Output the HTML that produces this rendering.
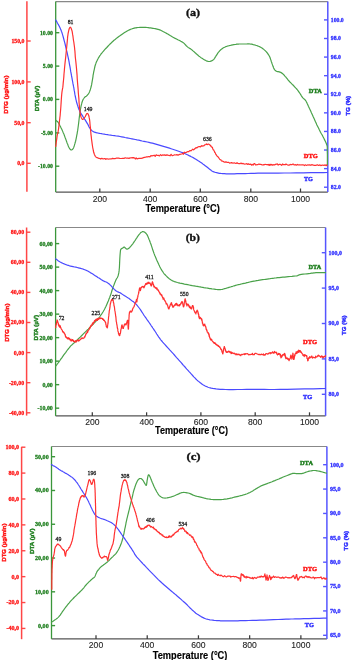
<!DOCTYPE html><html><head><meta charset="utf-8"><style>html,body{margin:0;padding:0;background:#fff;width:352px;height:660px;overflow:hidden}svg{display:block;will-change:transform}.sa{font-family:"Liberation Sans",sans-serif}.se{font-family:"Liberation Serif",serif}</style></head><body>
<svg width="352" height="660" viewBox="0 0 352 660">
<rect width="352" height="660" fill="#fff"/>
<line x1="55.7" y1="1.6" x2="327.8" y2="1.6" stroke="#888" stroke-width="1.2"/>
<line x1="55.7" y1="192.1" x2="327.8" y2="192.1" stroke="#555555" stroke-width="1.3"/>
<line x1="99.8" y1="192.1" x2="99.8" y2="188.5" stroke="#3a3a3a" stroke-width="1.25"/>
<text x="99.8" y="201.6" class="sa" font-size="8.6" fill="#222" stroke="#222" stroke-width="0.1" text-anchor="middle">200</text>
<line x1="150.2" y1="192.1" x2="150.2" y2="188.5" stroke="#3a3a3a" stroke-width="1.25"/>
<text x="150.2" y="201.6" class="sa" font-size="8.6" fill="#222" stroke="#222" stroke-width="0.1" text-anchor="middle">400</text>
<line x1="200.3" y1="192.1" x2="200.3" y2="188.5" stroke="#3a3a3a" stroke-width="1.25"/>
<text x="200.3" y="201.6" class="sa" font-size="8.6" fill="#222" stroke="#222" stroke-width="0.1" text-anchor="middle">600</text>
<line x1="250.8" y1="192.1" x2="250.8" y2="188.5" stroke="#3a3a3a" stroke-width="1.25"/>
<text x="250.8" y="201.6" class="sa" font-size="8.6" fill="#222" stroke="#222" stroke-width="0.1" text-anchor="middle">800</text>
<line x1="300.5" y1="192.1" x2="300.5" y2="188.5" stroke="#3a3a3a" stroke-width="1.25"/>
<text x="300.5" y="201.6" class="sa" font-size="8.6" fill="#222" stroke="#222" stroke-width="0.1" text-anchor="middle">1000</text>
<text x="145.6" y="212.0" textLength="74.2" lengthAdjust="spacingAndGlyphs" class="sa" font-size="10.6" font-weight="bold" fill="#000" stroke="#000" stroke-width="0.15" >Temperature (°C)</text>
<line x1="26.9" y1="1.3" x2="26.9" y2="191.7" stroke="#ff4646" stroke-width="1.5"/>
<line x1="26.9" y1="41.0" x2="30.7" y2="41.0" stroke="#ff4646" stroke-width="1.4"/>
<text x="24.4" y="42.9" class="se" font-size="5.75" font-weight="bold" fill="#ff1414" stroke="#ff1414" stroke-width="0.28" text-anchor="end">150,0</text>
<line x1="26.9" y1="81.9" x2="30.7" y2="81.9" stroke="#ff4646" stroke-width="1.4"/>
<text x="24.4" y="83.80000000000001" class="se" font-size="5.75" font-weight="bold" fill="#ff1414" stroke="#ff1414" stroke-width="0.28" text-anchor="end">100,0</text>
<line x1="26.9" y1="122.7" x2="30.7" y2="122.7" stroke="#ff4646" stroke-width="1.4"/>
<text x="24.4" y="124.60000000000001" class="se" font-size="5.75" font-weight="bold" fill="#ff1414" stroke="#ff1414" stroke-width="0.28" text-anchor="end">50,0</text>
<line x1="26.9" y1="163.3" x2="30.7" y2="163.3" stroke="#ff4646" stroke-width="1.4"/>
<text x="24.4" y="165.20000000000002" class="se" font-size="5.75" font-weight="bold" fill="#ff1414" stroke="#ff1414" stroke-width="0.28" text-anchor="end">0,0</text>
<line x1="55.7" y1="1.6" x2="55.7" y2="192.1" stroke="#3a963a" stroke-width="1.3"/>
<line x1="55.7" y1="32.7" x2="59.300000000000004" y2="32.7" stroke="#3a963a" stroke-width="1.4"/>
<text x="52.900000000000006" y="34.6" class="se" font-size="5.75" font-weight="bold" fill="#1f7f1f" stroke="#1f7f1f" stroke-width="0.28" text-anchor="end">10.00</text>
<line x1="55.7" y1="66.1" x2="59.300000000000004" y2="66.1" stroke="#3a963a" stroke-width="1.4"/>
<text x="52.900000000000006" y="68.0" class="se" font-size="5.75" font-weight="bold" fill="#1f7f1f" stroke="#1f7f1f" stroke-width="0.28" text-anchor="end">5.00</text>
<line x1="55.7" y1="99.4" x2="59.300000000000004" y2="99.4" stroke="#3a963a" stroke-width="1.4"/>
<text x="52.900000000000006" y="101.30000000000001" class="se" font-size="5.75" font-weight="bold" fill="#1f7f1f" stroke="#1f7f1f" stroke-width="0.28" text-anchor="end">0.00</text>
<line x1="55.7" y1="132.9" x2="59.300000000000004" y2="132.9" stroke="#3a963a" stroke-width="1.4"/>
<text x="52.900000000000006" y="134.8" class="se" font-size="5.75" font-weight="bold" fill="#1f7f1f" stroke="#1f7f1f" stroke-width="0.28" text-anchor="end">-5.00</text>
<line x1="55.7" y1="166.2" x2="59.300000000000004" y2="166.2" stroke="#3a963a" stroke-width="1.4"/>
<text x="52.900000000000006" y="168.1" class="se" font-size="5.75" font-weight="bold" fill="#1f7f1f" stroke="#1f7f1f" stroke-width="0.28" text-anchor="end">-10.00</text>
<line x1="327.8" y1="1.6" x2="327.8" y2="192.1" stroke="#5555ff" stroke-width="1.5"/>
<line x1="324.0" y1="19.9" x2="327.8" y2="19.9" stroke="#5555ff" stroke-width="1.4"/>
<text x="330.8" y="21.799999999999997" class="se" font-size="5.75" font-weight="bold" fill="#2e2eff" stroke="#2e2eff" stroke-width="0.28">100.0</text>
<line x1="324.0" y1="38.489999999999995" x2="327.8" y2="38.489999999999995" stroke="#5555ff" stroke-width="1.4"/>
<text x="330.8" y="40.38999999999999" class="se" font-size="5.75" font-weight="bold" fill="#2e2eff" stroke="#2e2eff" stroke-width="0.28">98.0</text>
<line x1="324.0" y1="57.08" x2="327.8" y2="57.08" stroke="#5555ff" stroke-width="1.4"/>
<text x="330.8" y="58.98" class="se" font-size="5.75" font-weight="bold" fill="#2e2eff" stroke="#2e2eff" stroke-width="0.28">96.0</text>
<line x1="324.0" y1="75.66999999999999" x2="327.8" y2="75.66999999999999" stroke="#5555ff" stroke-width="1.4"/>
<text x="330.8" y="77.57" class="se" font-size="5.75" font-weight="bold" fill="#2e2eff" stroke="#2e2eff" stroke-width="0.28">94.0</text>
<line x1="324.0" y1="94.25999999999999" x2="327.8" y2="94.25999999999999" stroke="#5555ff" stroke-width="1.4"/>
<text x="330.8" y="96.16" class="se" font-size="5.75" font-weight="bold" fill="#2e2eff" stroke="#2e2eff" stroke-width="0.28">92.0</text>
<line x1="324.0" y1="112.85" x2="327.8" y2="112.85" stroke="#5555ff" stroke-width="1.4"/>
<text x="330.8" y="114.75" class="se" font-size="5.75" font-weight="bold" fill="#2e2eff" stroke="#2e2eff" stroke-width="0.28">90.0</text>
<line x1="324.0" y1="131.44" x2="327.8" y2="131.44" stroke="#5555ff" stroke-width="1.4"/>
<text x="330.8" y="133.34" class="se" font-size="5.75" font-weight="bold" fill="#2e2eff" stroke="#2e2eff" stroke-width="0.28">88.0</text>
<line x1="324.0" y1="150.03" x2="327.8" y2="150.03" stroke="#5555ff" stroke-width="1.4"/>
<text x="330.8" y="151.93" class="se" font-size="5.75" font-weight="bold" fill="#2e2eff" stroke="#2e2eff" stroke-width="0.28">86.0</text>
<line x1="324.0" y1="168.62" x2="327.8" y2="168.62" stroke="#5555ff" stroke-width="1.4"/>
<text x="330.8" y="170.52" class="se" font-size="5.75" font-weight="bold" fill="#2e2eff" stroke="#2e2eff" stroke-width="0.28">84.0</text>
<line x1="324.0" y1="187.21" x2="327.8" y2="187.21" stroke="#5555ff" stroke-width="1.4"/>
<text x="330.8" y="189.11" class="se" font-size="5.75" font-weight="bold" fill="#2e2eff" stroke="#2e2eff" stroke-width="0.28">82.0</text>
<text transform="translate(7.5,113.75) rotate(-90)" textLength="38.3" lengthAdjust="spacingAndGlyphs" class="sa" font-size="5.8" font-weight="bold" fill="#ff1414" stroke="#ff1414" stroke-width="0.4">DTG (µg/min)</text>
<text transform="translate(39.2,111.25) rotate(-90)" textLength="25.5" lengthAdjust="spacingAndGlyphs" class="sa" font-size="5.8" font-weight="bold" fill="#1f7f1f" stroke="#1f7f1f" stroke-width="0.4">DTA (µV)</text>
<text transform="translate(350.4,115.5) rotate(-90)" textLength="19.6" lengthAdjust="spacingAndGlyphs" class="sa" font-size="5.8" font-weight="bold" fill="#2e2eff" stroke="#2e2eff" stroke-width="0.4">TG (%)</text>
<text x="185.9" y="16.3" textLength="14.2" lengthAdjust="spacingAndGlyphs" class="se" font-size="11.3" font-weight="bold" fill="#111" stroke="#111" stroke-width="0.35">(a)</text>
<line x1="55.6" y1="227.5" x2="325.6" y2="227.5" stroke="#888" stroke-width="1.2"/>
<line x1="55.6" y1="415.9" x2="325.6" y2="415.9" stroke="#555555" stroke-width="1.3"/>
<line x1="92.3" y1="415.9" x2="92.3" y2="412.29999999999995" stroke="#3a3a3a" stroke-width="1.25"/>
<text x="92.3" y="424.6" class="sa" font-size="8.6" fill="#222" stroke="#222" stroke-width="0.1" text-anchor="middle">200</text>
<line x1="146.6" y1="415.9" x2="146.6" y2="412.29999999999995" stroke="#3a3a3a" stroke-width="1.25"/>
<text x="146.6" y="424.6" class="sa" font-size="8.6" fill="#222" stroke="#222" stroke-width="0.1" text-anchor="middle">400</text>
<line x1="200.89999999999998" y1="415.9" x2="200.89999999999998" y2="412.29999999999995" stroke="#3a3a3a" stroke-width="1.25"/>
<text x="200.89999999999998" y="424.6" class="sa" font-size="8.6" fill="#222" stroke="#222" stroke-width="0.1" text-anchor="middle">600</text>
<line x1="255.2" y1="415.9" x2="255.2" y2="412.29999999999995" stroke="#3a3a3a" stroke-width="1.25"/>
<text x="255.2" y="424.6" class="sa" font-size="8.6" fill="#222" stroke="#222" stroke-width="0.1" text-anchor="middle">800</text>
<line x1="309.5" y1="415.9" x2="309.5" y2="412.29999999999995" stroke="#3a3a3a" stroke-width="1.25"/>
<text x="309.5" y="424.6" class="sa" font-size="8.6" fill="#222" stroke="#222" stroke-width="0.1" text-anchor="middle">1000</text>
<text x="155.10000000000002" y="434.2" textLength="72.9" lengthAdjust="spacingAndGlyphs" class="sa" font-size="10.6" font-weight="bold" fill="#000" stroke="#000" stroke-width="0.15" >Temperature (°C)</text>
<line x1="26.6" y1="227.5" x2="26.6" y2="415.6" stroke="#ff4646" stroke-width="1.5"/>
<line x1="26.6" y1="232.2" x2="30.400000000000002" y2="232.2" stroke="#ff4646" stroke-width="1.4"/>
<text x="24.1" y="234.1" class="se" font-size="5.9" font-weight="bold" fill="#ff1414" stroke="#ff1414" stroke-width="0.28" text-anchor="end">80,00</text>
<line x1="26.6" y1="262.3" x2="30.400000000000002" y2="262.3" stroke="#ff4646" stroke-width="1.4"/>
<text x="24.1" y="264.2" class="se" font-size="5.9" font-weight="bold" fill="#ff1414" stroke="#ff1414" stroke-width="0.28" text-anchor="end">60,00</text>
<line x1="26.6" y1="292.4" x2="30.400000000000002" y2="292.4" stroke="#ff4646" stroke-width="1.4"/>
<text x="24.1" y="294.29999999999995" class="se" font-size="5.9" font-weight="bold" fill="#ff1414" stroke="#ff1414" stroke-width="0.28" text-anchor="end">40,00</text>
<line x1="26.6" y1="322.5" x2="30.400000000000002" y2="322.5" stroke="#ff4646" stroke-width="1.4"/>
<text x="24.1" y="324.4" class="se" font-size="5.9" font-weight="bold" fill="#ff1414" stroke="#ff1414" stroke-width="0.28" text-anchor="end">20,00</text>
<line x1="26.6" y1="352.6" x2="30.400000000000002" y2="352.6" stroke="#ff4646" stroke-width="1.4"/>
<text x="24.1" y="354.5" class="se" font-size="5.9" font-weight="bold" fill="#ff1414" stroke="#ff1414" stroke-width="0.28" text-anchor="end">0,00</text>
<line x1="26.6" y1="382.7" x2="30.400000000000002" y2="382.7" stroke="#ff4646" stroke-width="1.4"/>
<text x="24.1" y="384.59999999999997" class="se" font-size="5.9" font-weight="bold" fill="#ff1414" stroke="#ff1414" stroke-width="0.28" text-anchor="end">-20,00</text>
<line x1="26.6" y1="412.8" x2="30.400000000000002" y2="412.8" stroke="#ff4646" stroke-width="1.4"/>
<text x="24.1" y="414.7" class="se" font-size="5.9" font-weight="bold" fill="#ff1414" stroke="#ff1414" stroke-width="0.28" text-anchor="end">-40,00</text>
<line x1="55.6" y1="227.5" x2="55.6" y2="415.9" stroke="#3a963a" stroke-width="1.3"/>
<line x1="55.6" y1="243.6" x2="59.2" y2="243.6" stroke="#3a963a" stroke-width="1.4"/>
<text x="52.800000000000004" y="245.5" class="se" font-size="5.9" font-weight="bold" fill="#1f7f1f" stroke="#1f7f1f" stroke-width="0.28" text-anchor="end">60,00</text>
<line x1="55.6" y1="267.11" x2="59.2" y2="267.11" stroke="#3a963a" stroke-width="1.4"/>
<text x="52.800000000000004" y="269.01" class="se" font-size="5.9" font-weight="bold" fill="#1f7f1f" stroke="#1f7f1f" stroke-width="0.28" text-anchor="end">50,00</text>
<line x1="55.6" y1="290.62" x2="59.2" y2="290.62" stroke="#3a963a" stroke-width="1.4"/>
<text x="52.800000000000004" y="292.52" class="se" font-size="5.9" font-weight="bold" fill="#1f7f1f" stroke="#1f7f1f" stroke-width="0.28" text-anchor="end">40,00</text>
<line x1="55.6" y1="314.13" x2="59.2" y2="314.13" stroke="#3a963a" stroke-width="1.4"/>
<text x="52.800000000000004" y="316.03" class="se" font-size="5.9" font-weight="bold" fill="#1f7f1f" stroke="#1f7f1f" stroke-width="0.28" text-anchor="end">30,00</text>
<line x1="55.6" y1="337.64" x2="59.2" y2="337.64" stroke="#3a963a" stroke-width="1.4"/>
<text x="52.800000000000004" y="339.53999999999996" class="se" font-size="5.9" font-weight="bold" fill="#1f7f1f" stroke="#1f7f1f" stroke-width="0.28" text-anchor="end">20,00</text>
<line x1="55.6" y1="361.15" x2="59.2" y2="361.15" stroke="#3a963a" stroke-width="1.4"/>
<text x="52.800000000000004" y="363.04999999999995" class="se" font-size="5.9" font-weight="bold" fill="#1f7f1f" stroke="#1f7f1f" stroke-width="0.28" text-anchor="end">10,00</text>
<line x1="55.6" y1="384.65999999999997" x2="59.2" y2="384.65999999999997" stroke="#3a963a" stroke-width="1.4"/>
<text x="52.800000000000004" y="386.55999999999995" class="se" font-size="5.9" font-weight="bold" fill="#1f7f1f" stroke="#1f7f1f" stroke-width="0.28" text-anchor="end">0,00</text>
<line x1="55.6" y1="408.17" x2="59.2" y2="408.17" stroke="#3a963a" stroke-width="1.4"/>
<text x="52.800000000000004" y="410.07" class="se" font-size="5.9" font-weight="bold" fill="#1f7f1f" stroke="#1f7f1f" stroke-width="0.28" text-anchor="end">-10,00</text>
<line x1="325.6" y1="227.5" x2="325.6" y2="415.9" stroke="#5555ff" stroke-width="1.5"/>
<line x1="321.8" y1="252.7" x2="325.6" y2="252.7" stroke="#5555ff" stroke-width="1.4"/>
<text x="328.6" y="254.6" class="se" font-size="5.9" font-weight="bold" fill="#2e2eff" stroke="#2e2eff" stroke-width="0.28">100,0</text>
<line x1="321.8" y1="288.09999999999997" x2="325.6" y2="288.09999999999997" stroke="#5555ff" stroke-width="1.4"/>
<text x="328.6" y="289.99999999999994" class="se" font-size="5.9" font-weight="bold" fill="#2e2eff" stroke="#2e2eff" stroke-width="0.28">95,0</text>
<line x1="321.8" y1="323.5" x2="325.6" y2="323.5" stroke="#5555ff" stroke-width="1.4"/>
<text x="328.6" y="325.4" class="se" font-size="5.9" font-weight="bold" fill="#2e2eff" stroke="#2e2eff" stroke-width="0.28">90,0</text>
<line x1="321.8" y1="358.9" x2="325.6" y2="358.9" stroke="#5555ff" stroke-width="1.4"/>
<text x="328.6" y="360.79999999999995" class="se" font-size="5.9" font-weight="bold" fill="#2e2eff" stroke="#2e2eff" stroke-width="0.28">85,0</text>
<line x1="321.8" y1="394.29999999999995" x2="325.6" y2="394.29999999999995" stroke="#5555ff" stroke-width="1.4"/>
<text x="328.6" y="396.19999999999993" class="se" font-size="5.9" font-weight="bold" fill="#2e2eff" stroke="#2e2eff" stroke-width="0.28">80,0</text>
<text transform="translate(9.1,341.84999999999997) rotate(-90)" textLength="38.3" lengthAdjust="spacingAndGlyphs" class="sa" font-size="5.8" font-weight="bold" fill="#ff1414" stroke="#ff1414" stroke-width="0.4">DTG (µg/min)</text>
<text transform="translate(37.5,340.45) rotate(-90)" textLength="25.5" lengthAdjust="spacingAndGlyphs" class="sa" font-size="5.8" font-weight="bold" fill="#1f7f1f" stroke="#1f7f1f" stroke-width="0.4">DTA (µV)</text>
<text transform="translate(345.9,335.0) rotate(-90)" textLength="19.6" lengthAdjust="spacingAndGlyphs" class="sa" font-size="5.8" font-weight="bold" fill="#2e2eff" stroke="#2e2eff" stroke-width="0.4">TG (%)</text>
<text x="185.65" y="241.3" textLength="14.2" lengthAdjust="spacingAndGlyphs" class="se" font-size="11.3" font-weight="bold" fill="#111" stroke="#111" stroke-width="0.35">(b)</text>
<line x1="51.5" y1="446.5" x2="326.9" y2="446.5" stroke="#888" stroke-width="1.2"/>
<line x1="51.5" y1="638.9" x2="326.9" y2="638.9" stroke="#555555" stroke-width="1.3"/>
<line x1="96.0" y1="638.9" x2="96.0" y2="635.3" stroke="#3a3a3a" stroke-width="1.25"/>
<text x="96.0" y="647.9" class="sa" font-size="8.6" fill="#222" stroke="#222" stroke-width="0.1" text-anchor="middle">200</text>
<line x1="147.22" y1="638.9" x2="147.22" y2="635.3" stroke="#3a3a3a" stroke-width="1.25"/>
<text x="147.22" y="647.9" class="sa" font-size="8.6" fill="#222" stroke="#222" stroke-width="0.1" text-anchor="middle">400</text>
<line x1="198.44" y1="638.9" x2="198.44" y2="635.3" stroke="#3a3a3a" stroke-width="1.25"/>
<text x="198.44" y="647.9" class="sa" font-size="8.6" fill="#222" stroke="#222" stroke-width="0.1" text-anchor="middle">600</text>
<line x1="249.66" y1="638.9" x2="249.66" y2="635.3" stroke="#3a3a3a" stroke-width="1.25"/>
<text x="249.66" y="647.9" class="sa" font-size="8.6" fill="#222" stroke="#222" stroke-width="0.1" text-anchor="middle">800</text>
<line x1="300.88" y1="638.9" x2="300.88" y2="635.3" stroke="#3a3a3a" stroke-width="1.25"/>
<text x="300.88" y="647.9" class="sa" font-size="8.6" fill="#222" stroke="#222" stroke-width="0.1" text-anchor="middle">1000</text>
<text x="152.70000000000002" y="658.5" textLength="74.7" lengthAdjust="spacingAndGlyphs" class="sa" font-size="10.6" font-weight="bold" fill="#000" stroke="#000" stroke-width="0.15" >Temperature (°C)</text>
<line x1="21.6" y1="446.8" x2="21.6" y2="639.2" stroke="#ff4646" stroke-width="1.5"/>
<line x1="21.6" y1="447.2" x2="25.400000000000002" y2="447.2" stroke="#ff4646" stroke-width="1.4"/>
<text x="19.1" y="449.09999999999997" class="se" font-size="6.1" font-weight="bold" fill="#ff1414" stroke="#ff1414" stroke-width="0.28" text-anchor="end">100,0</text>
<line x1="21.6" y1="473.09" x2="25.400000000000002" y2="473.09" stroke="#ff4646" stroke-width="1.4"/>
<text x="19.1" y="474.98999999999995" class="se" font-size="6.1" font-weight="bold" fill="#ff1414" stroke="#ff1414" stroke-width="0.28" text-anchor="end">80,0</text>
<line x1="21.6" y1="498.98" x2="25.400000000000002" y2="498.98" stroke="#ff4646" stroke-width="1.4"/>
<text x="19.1" y="500.88" class="se" font-size="6.1" font-weight="bold" fill="#ff1414" stroke="#ff1414" stroke-width="0.28" text-anchor="end">60,0</text>
<line x1="21.6" y1="524.87" x2="25.400000000000002" y2="524.87" stroke="#ff4646" stroke-width="1.4"/>
<text x="19.1" y="526.77" class="se" font-size="6.1" font-weight="bold" fill="#ff1414" stroke="#ff1414" stroke-width="0.28" text-anchor="end">40,0</text>
<line x1="21.6" y1="550.76" x2="25.400000000000002" y2="550.76" stroke="#ff4646" stroke-width="1.4"/>
<text x="19.1" y="552.66" class="se" font-size="6.1" font-weight="bold" fill="#ff1414" stroke="#ff1414" stroke-width="0.28" text-anchor="end">20,0</text>
<line x1="21.6" y1="576.65" x2="25.400000000000002" y2="576.65" stroke="#ff4646" stroke-width="1.4"/>
<text x="19.1" y="578.55" class="se" font-size="6.1" font-weight="bold" fill="#ff1414" stroke="#ff1414" stroke-width="0.28" text-anchor="end">0,0</text>
<line x1="21.6" y1="602.54" x2="25.400000000000002" y2="602.54" stroke="#ff4646" stroke-width="1.4"/>
<text x="19.1" y="604.4399999999999" class="se" font-size="6.1" font-weight="bold" fill="#ff1414" stroke="#ff1414" stroke-width="0.28" text-anchor="end">-20,0</text>
<line x1="21.6" y1="628.4300000000001" x2="25.400000000000002" y2="628.4300000000001" stroke="#ff4646" stroke-width="1.4"/>
<text x="19.1" y="630.33" class="se" font-size="6.1" font-weight="bold" fill="#ff1414" stroke="#ff1414" stroke-width="0.28" text-anchor="end">-40,0</text>
<line x1="51.5" y1="446.5" x2="51.5" y2="638.9" stroke="#3a963a" stroke-width="1.3"/>
<line x1="51.5" y1="456.7" x2="55.1" y2="456.7" stroke="#3a963a" stroke-width="1.4"/>
<text x="48.7" y="458.59999999999997" class="se" font-size="6.1" font-weight="bold" fill="#1f7f1f" stroke="#1f7f1f" stroke-width="0.28" text-anchor="end">50,00</text>
<line x1="51.5" y1="490.48" x2="55.1" y2="490.48" stroke="#3a963a" stroke-width="1.4"/>
<text x="48.7" y="492.38" class="se" font-size="6.1" font-weight="bold" fill="#1f7f1f" stroke="#1f7f1f" stroke-width="0.28" text-anchor="end">40,00</text>
<line x1="51.5" y1="524.26" x2="55.1" y2="524.26" stroke="#3a963a" stroke-width="1.4"/>
<text x="48.7" y="526.16" class="se" font-size="6.1" font-weight="bold" fill="#1f7f1f" stroke="#1f7f1f" stroke-width="0.28" text-anchor="end">30,00</text>
<line x1="51.5" y1="558.04" x2="55.1" y2="558.04" stroke="#3a963a" stroke-width="1.4"/>
<text x="48.7" y="559.9399999999999" class="se" font-size="6.1" font-weight="bold" fill="#1f7f1f" stroke="#1f7f1f" stroke-width="0.28" text-anchor="end">20,00</text>
<line x1="51.5" y1="591.8199999999999" x2="55.1" y2="591.8199999999999" stroke="#3a963a" stroke-width="1.4"/>
<text x="48.7" y="593.7199999999999" class="se" font-size="6.1" font-weight="bold" fill="#1f7f1f" stroke="#1f7f1f" stroke-width="0.28" text-anchor="end">10,00</text>
<line x1="51.5" y1="625.6" x2="55.1" y2="625.6" stroke="#3a963a" stroke-width="1.4"/>
<text x="48.7" y="627.5" class="se" font-size="6.1" font-weight="bold" fill="#1f7f1f" stroke="#1f7f1f" stroke-width="0.28" text-anchor="end">0,00</text>
<line x1="326.9" y1="446.5" x2="326.9" y2="638.9" stroke="#5555ff" stroke-width="1.5"/>
<line x1="323.09999999999997" y1="464.7" x2="326.9" y2="464.7" stroke="#5555ff" stroke-width="1.4"/>
<text x="329.9" y="466.59999999999997" class="se" font-size="6.1" font-weight="bold" fill="#2e2eff" stroke="#2e2eff" stroke-width="0.28">100,0</text>
<line x1="323.09999999999997" y1="489.07" x2="326.9" y2="489.07" stroke="#5555ff" stroke-width="1.4"/>
<text x="329.9" y="490.96999999999997" class="se" font-size="6.1" font-weight="bold" fill="#2e2eff" stroke="#2e2eff" stroke-width="0.28">95,0</text>
<line x1="323.09999999999997" y1="513.4399999999999" x2="326.9" y2="513.4399999999999" stroke="#5555ff" stroke-width="1.4"/>
<text x="329.9" y="515.3399999999999" class="se" font-size="6.1" font-weight="bold" fill="#2e2eff" stroke="#2e2eff" stroke-width="0.28">90,0</text>
<line x1="323.09999999999997" y1="537.81" x2="326.9" y2="537.81" stroke="#5555ff" stroke-width="1.4"/>
<text x="329.9" y="539.7099999999999" class="se" font-size="6.1" font-weight="bold" fill="#2e2eff" stroke="#2e2eff" stroke-width="0.28">85,0</text>
<line x1="323.09999999999997" y1="562.18" x2="326.9" y2="562.18" stroke="#5555ff" stroke-width="1.4"/>
<text x="329.9" y="564.0799999999999" class="se" font-size="6.1" font-weight="bold" fill="#2e2eff" stroke="#2e2eff" stroke-width="0.28">80,0</text>
<line x1="323.09999999999997" y1="586.55" x2="326.9" y2="586.55" stroke="#5555ff" stroke-width="1.4"/>
<text x="329.9" y="588.4499999999999" class="se" font-size="6.1" font-weight="bold" fill="#2e2eff" stroke="#2e2eff" stroke-width="0.28">75,0</text>
<line x1="323.09999999999997" y1="610.92" x2="326.9" y2="610.92" stroke="#5555ff" stroke-width="1.4"/>
<text x="329.9" y="612.8199999999999" class="se" font-size="6.1" font-weight="bold" fill="#2e2eff" stroke="#2e2eff" stroke-width="0.28">70,0</text>
<line x1="323.09999999999997" y1="635.29" x2="326.9" y2="635.29" stroke="#5555ff" stroke-width="1.4"/>
<text x="329.9" y="637.1899999999999" class="se" font-size="6.1" font-weight="bold" fill="#2e2eff" stroke="#2e2eff" stroke-width="0.28">65,0</text>
<text transform="translate(5.6,561.75) rotate(-90)" textLength="38.3" lengthAdjust="spacingAndGlyphs" class="sa" font-size="5.8" font-weight="bold" fill="#ff1414" stroke="#ff1414" stroke-width="0.4">DTG (µg/min)</text>
<text transform="translate(34.4,553.95) rotate(-90)" textLength="25.5" lengthAdjust="spacingAndGlyphs" class="sa" font-size="5.8" font-weight="bold" fill="#1f7f1f" stroke="#1f7f1f" stroke-width="0.4">DTA (µV)</text>
<text transform="translate(347.7,550.5) rotate(-90)" textLength="19.6" lengthAdjust="spacingAndGlyphs" class="sa" font-size="5.8" font-weight="bold" fill="#2e2eff" stroke="#2e2eff" stroke-width="0.4">TG (%)</text>
<text x="186.4" y="460.3" textLength="14.2" lengthAdjust="spacingAndGlyphs" class="se" font-size="11.3" font-weight="bold" fill="#111" stroke="#111" stroke-width="0.35">(c)</text>
<polyline points="55.7,120.2 55.9,120.4 56.2,120.6 56.6,120.9 57.0,121.2 57.4,121.5 57.8,121.9 58.1,122.3 58.4,122.8 58.7,123.3 59.0,123.9 59.3,124.4 59.6,125.0 59.9,125.6 60.2,126.1 60.5,126.7 60.8,127.3 61.1,128.0 61.5,128.8 61.9,129.6 62.3,130.4 62.7,131.4 63.1,132.4 63.6,133.4 64.0,134.4 64.4,135.5 64.8,136.6 65.2,137.8 65.7,139.0 66.1,140.1 66.5,141.2 66.9,142.4 67.3,143.5 67.8,144.6 68.2,145.7 68.6,146.7 69.0,147.5 69.4,148.2 69.8,148.8 70.1,149.3 70.5,149.6 70.9,149.9 71.2,150.0 71.6,150.0 72.0,149.8 72.3,149.6 72.7,149.2 73.1,148.7 73.4,148.1 73.7,147.4 74.0,146.6 74.3,145.7 74.6,144.7 74.9,143.7 75.2,142.5 75.6,141.2 75.9,139.8 76.2,138.3 76.5,136.8 76.8,135.2 77.1,133.8 77.3,132.3 77.6,130.9 77.8,129.5 78.0,128.0 78.2,126.5 78.4,125.0 78.6,123.4 78.8,121.7 79.0,120.0 79.2,118.2 79.4,116.6 79.6,115.0 79.8,113.5 80.0,112.1 80.2,110.8 80.4,109.4 80.7,108.2 80.9,107.0 81.1,105.9 81.4,104.8 81.7,103.7 81.9,102.7 82.2,101.8 82.5,101.0 82.8,100.3 83.1,99.6 83.4,99.0 83.8,98.5 84.1,98.0 84.5,97.5 84.9,97.1 85.3,96.8 85.7,96.5 86.2,96.2 86.6,95.9 87.0,95.5 87.4,95.1 87.8,94.7 88.1,94.2 88.5,93.8 88.8,93.2 89.2,92.5 89.6,91.7 89.9,90.7 90.3,89.7 90.6,88.6 90.9,87.6 91.2,86.5 91.4,85.5 91.7,84.4 91.8,83.3 92.0,82.3 92.2,81.1 92.4,80.0 92.6,78.8 92.8,77.6 93.0,76.3 93.1,75.1 93.4,73.8 93.6,72.5 93.9,71.2 94.2,69.8 94.5,68.4 94.8,67.0 95.1,65.7 95.5,64.5 95.9,63.4 96.2,62.4 96.6,61.5 97.1,60.6 97.5,59.7 98.0,58.8 98.5,57.8 99.1,56.9 99.7,55.9 100.4,55.0 101.0,54.0 101.8,53.1 102.5,52.2 103.3,51.3 104.1,50.3 104.9,49.4 105.8,48.5 106.8,47.5 107.7,46.5 108.7,45.4 109.8,44.3 110.9,43.3 111.9,42.2 113.0,41.2 114.0,40.3 115.1,39.5 116.1,38.6 117.2,37.8 118.2,37.0 119.2,36.2 120.3,35.5 121.4,34.7 122.5,33.9 123.5,33.2 124.6,32.5 125.5,31.9 126.4,31.4 127.1,31.0 127.9,30.6 128.6,30.2 129.3,29.9 130.0,29.6 130.7,29.3 131.4,29.0 132.1,28.8 132.8,28.5 133.5,28.3 134.3,28.1 135.1,27.9 136.0,27.8 136.9,27.6 137.9,27.5 138.9,27.5 139.9,27.4 141.0,27.4 142.2,27.3 143.4,27.3 144.6,27.4 145.8,27.4 147.0,27.5 148.2,27.6 149.4,27.8 150.6,27.9 151.8,28.1 153.0,28.3 154.1,28.5 155.1,28.7 156.1,28.9 157.0,29.1 158.0,29.3 158.9,29.6 159.8,29.9 160.7,30.3 161.6,30.7 162.6,31.2 163.5,31.7 164.5,32.2 165.5,32.8 166.6,33.4 167.8,34.1 168.9,34.8 170.2,35.6 171.4,36.3 172.6,37.0 173.9,37.7 175.2,38.4 176.5,39.0 177.8,39.7 179.0,40.3 180.0,40.8 180.8,41.3 181.5,41.6 182.1,41.9 182.6,42.3 183.2,42.6 183.8,43.1 184.4,43.7 185.0,44.3 185.6,45.0 186.2,45.7 186.9,46.3 187.5,46.9 188.1,47.4 188.8,47.8 189.5,48.3 190.1,48.6 190.7,49.0 191.2,49.4 191.7,49.8 192.2,50.1 192.6,50.5 193.0,50.8 193.3,51.1 193.8,51.5 194.2,51.9 194.5,52.2 194.9,52.6 195.3,52.9 195.8,53.3 196.2,53.8 196.8,54.2 197.4,54.8 198.0,55.3 198.7,55.9 199.4,56.4 200.0,56.9 200.6,57.4 201.2,57.8 201.9,58.2 202.5,58.6 203.1,59.0 203.8,59.4 204.4,59.8 205.0,60.1 205.7,60.5 206.3,60.8 206.9,61.1 207.5,61.2 208.1,61.4 208.6,61.5 209.1,61.5 209.6,61.5 210.1,61.4 210.6,61.2 211.1,61.1 211.7,60.8 212.2,60.6 212.7,60.2 213.3,59.8 213.8,59.4 214.2,58.9 214.6,58.3 215.0,57.6 215.4,56.9 215.8,56.3 216.2,55.6 216.7,55.0 217.1,54.3 217.5,53.7 217.9,53.0 218.3,52.4 218.8,51.9 219.2,51.4 219.6,51.0 220.0,50.5 220.4,50.1 220.8,49.8 221.2,49.4 221.7,49.0 222.1,48.7 222.5,48.4 223.0,48.1 223.5,47.8 224.0,47.5 224.6,47.2 225.1,47.0 225.7,46.7 226.4,46.5 227.1,46.2 228.0,46.0 229.0,45.7 230.2,45.5 231.4,45.2 232.7,44.9 233.9,44.7 235.0,44.5 235.9,44.4 236.8,44.2 237.6,44.2 238.4,44.1 239.2,44.0 240.0,44.0 240.8,44.0 241.7,44.0 242.5,44.0 243.3,44.0 244.2,44.0 245.0,44.0 245.8,44.0 246.7,44.0 247.5,43.9 248.3,43.9 249.2,43.9 250.0,44.0 250.8,44.1 251.7,44.2 252.5,44.4 253.3,44.6 254.2,44.8 255.0,45.0 255.8,45.3 256.7,45.5 257.6,45.9 258.4,46.2 259.2,46.5 260.0,46.9 260.7,47.3 261.4,47.7 262.0,48.1 262.6,48.5 263.2,48.9 263.8,49.4 264.3,49.9 264.9,50.4 265.4,50.9 265.9,51.4 266.4,51.9 266.9,52.5 267.4,53.1 267.8,53.7 268.2,54.3 268.6,54.9 269.0,55.5 269.4,56.2 269.8,57.0 270.1,57.8 270.4,58.7 270.7,59.6 271.0,60.4 271.2,61.2 271.5,62.0 271.8,62.8 272.0,63.5 272.3,64.2 272.5,64.9 272.8,65.6 273.0,66.3 273.3,67.0 273.5,67.7 273.8,68.3 274.1,68.9 274.4,69.4 274.7,69.8 275.0,70.2 275.4,70.6 275.7,70.8 276.1,71.1 276.5,71.3 276.9,71.5 277.4,71.6 277.9,71.6 278.4,71.7 278.9,71.8 279.4,71.9 279.8,72.1 280.3,72.2 280.7,72.4 281.1,72.6 281.5,72.9 281.9,73.1 282.3,73.4 282.6,73.6 283.0,74.0 283.3,74.3 283.6,74.6 284.0,75.0 284.4,75.4 284.7,75.8 285.1,76.3 285.5,76.7 285.9,77.2 286.4,77.8 286.9,78.4 287.5,79.1 288.0,79.8 288.6,80.5 289.3,81.3 289.9,82.0 290.6,82.7 291.3,83.4 292.0,84.1 292.7,84.8 293.5,85.5 294.2,86.3 294.9,87.1 295.6,87.9 296.4,88.7 297.1,89.5 297.8,90.4 298.5,91.3 299.2,92.3 300.0,93.5 300.7,94.6 301.4,95.8 302.1,96.8 302.7,97.7 303.3,98.3 303.8,98.8 304.2,99.1 304.7,99.5 305.1,99.9 305.6,100.5 306.1,101.3 306.5,102.1 307.0,103.0 307.4,104.0 307.9,105.1 308.4,106.2 309.0,107.4 309.5,108.6 310.2,110.0 310.8,111.3 311.4,112.7 312.0,114.0 312.6,115.3 313.1,116.5 313.7,117.8 314.3,119.1 314.9,120.4 315.5,121.8 316.2,123.3 316.9,124.9 317.7,126.5 318.5,128.1 319.2,129.6 319.9,131.0 320.5,132.2 321.1,133.3 321.7,134.3 322.3,135.3 322.8,136.3 323.4,137.4 324.0,138.6 324.6,139.9 325.3,141.2 325.9,142.5 326.4,143.8 326.8,144.9 327.1,145.8 327.2,146.4 327.3,147.0 327.3,147.7 327.3,148.6 327.3,150.0 327.3,152.1 327.4,154.8 327.4,157.7 327.4,160.6 327.4,163.1 327.4,164.8" fill="none" stroke="#4aa24a" stroke-width="1.2" stroke-linejoin="round" stroke-linecap="round"/>
<polyline points="55.7,20.0 55.9,20.4 56.3,21.0 56.7,21.6 57.1,22.4 57.5,23.2 58.0,24.0 58.5,24.9 59.0,25.8 59.5,26.8 60.0,27.8 60.5,28.9 61.0,30.0 61.4,31.2 61.9,32.4 62.3,33.8 62.7,35.1 63.1,36.5 63.5,38.0 63.9,39.5 64.3,41.1 64.8,42.8 65.2,44.5 65.6,46.3 66.0,48.0 66.4,49.8 66.9,51.6 67.3,53.4 67.7,55.3 68.1,57.2 68.5,59.0 68.9,60.8 69.2,62.7 69.5,64.5 69.9,66.3 70.2,68.2 70.5,70.0 70.8,71.9 71.2,73.8 71.5,75.7 71.9,77.6 72.2,79.3 72.5,81.0 72.8,82.5 73.0,83.9 73.3,85.2 73.5,86.4 73.8,87.7 74.0,89.0 74.2,90.4 74.5,91.7 74.7,93.1 74.9,94.4 75.2,95.8 75.4,97.0 75.7,98.2 75.9,99.3 76.2,100.4 76.4,101.5 76.7,102.5 77.0,103.5 77.3,104.5 77.6,105.4 77.9,106.4 78.2,107.3 78.5,108.2 78.8,109.0 79.1,109.8 79.5,110.6 79.9,111.4 80.2,112.1 80.6,112.8 81.0,113.5 81.4,114.2 81.8,114.7 82.2,115.3 82.6,115.9 83.0,116.6 83.5,117.3 84.0,118.2 84.6,119.1 85.3,120.1 85.9,121.1 86.5,122.1 87.1,123.1 87.7,124.1 88.2,125.1 88.7,126.2 89.2,127.1 89.8,128.0 90.2,128.8 90.7,129.4 91.2,129.9 91.6,130.4 92.1,130.8 92.5,131.1 93.0,131.4 93.5,131.7 93.9,131.9 94.4,132.1 94.9,132.3 95.4,132.4 96.0,132.6 96.6,132.8 97.2,132.9 97.8,133.0 98.5,133.2 99.3,133.3 100.2,133.5 101.4,133.7 102.8,134.0 104.2,134.2 105.8,134.5 107.4,134.7 109.0,135.0 110.7,135.2 112.5,135.5 114.4,135.7 116.3,136.0 118.2,136.2 120.0,136.5 121.7,136.8 123.5,137.1 125.1,137.5 126.8,137.8 128.5,138.2 130.2,138.5 131.9,138.8 133.6,139.2 135.3,139.5 137.1,139.9 138.8,140.2 140.5,140.6 142.2,141.0 143.9,141.3 145.6,141.7 147.3,142.0 149.0,142.4 150.7,142.8 152.4,143.2 154.1,143.7 155.8,144.2 157.5,144.7 159.2,145.2 160.9,145.7 162.6,146.2 164.3,146.7 166.1,147.2 167.8,147.7 169.5,148.2 171.1,148.7 172.7,149.2 174.2,149.7 175.8,150.2 177.2,150.7 178.7,151.2 180.0,151.7 181.3,152.2 182.4,152.6 183.5,153.1 184.6,153.5 185.7,154.0 186.8,154.5 187.9,155.0 189.1,155.6 190.2,156.1 191.3,156.7 192.5,157.3 193.6,157.9 194.7,158.6 195.9,159.2 197.0,159.9 198.2,160.7 199.4,161.4 200.5,162.2 201.7,163.0 202.8,163.9 204.0,164.8 205.2,165.7 206.3,166.5 207.3,167.3 208.2,168.0 209.1,168.8 210.0,169.5 210.8,170.1 211.6,170.7 212.4,171.2 213.2,171.6 214.0,172.0 214.8,172.2 215.7,172.5 216.6,172.7 217.5,172.9 218.4,173.1 219.3,173.3 220.2,173.4 221.3,173.5 222.6,173.6 224.3,173.7 226.4,173.8 228.8,173.8 231.5,173.8 234.3,173.8 237.1,173.7 240.0,173.7 242.7,173.6 245.3,173.6 248.0,173.5 250.9,173.4 254.2,173.3 258.0,173.2 262.5,173.2 267.4,173.1 272.8,173.1 278.4,173.1 284.2,173.0 290.0,173.0 296.4,172.9 303.5,172.8 310.8,172.7 317.6,172.6 323.4,172.6 327.5,172.5" fill="none" stroke="#4a4aff" stroke-width="1.2" stroke-linejoin="round" stroke-linecap="round"/>
<polyline points="55.7,146.5 55.9,145.3 56.1,143.7 56.3,141.8 56.6,139.8 56.9,137.8 57.1,136.2 57.3,135.0 57.5,134.0 57.8,133.1 58.0,132.2 58.2,131.2 58.4,130.0 58.6,128.5 58.8,126.9 59.0,125.2 59.2,123.4 59.4,121.6 59.6,120.0 59.8,118.6 59.9,117.3 60.1,116.0 60.2,114.7 60.3,113.2 60.5,111.2 60.7,108.8 60.9,106.0 61.1,102.9 61.3,99.8 61.5,96.9 61.7,94.5 61.9,92.6 62.1,91.2 62.3,90.0 62.5,88.8 62.8,87.4 63.0,85.5 63.2,83.1 63.5,80.2 63.8,77.1 64.0,74.0 64.3,71.0 64.5,68.4 64.7,66.2 64.9,64.2 65.1,62.4 65.3,60.6 65.5,58.9 65.7,57.0 65.9,55.0 66.1,53.0 66.3,51.0 66.5,49.0 66.7,47.0 66.9,45.0 67.1,43.0 67.3,40.9 67.5,38.9 67.6,36.9 67.9,35.1 68.1,33.5 68.4,32.1 68.7,30.7 69.0,29.5 69.3,28.5 69.7,27.7 70.0,27.3 70.3,27.2 70.7,27.5 71.0,28.0 71.3,28.7 71.6,29.6 71.9,30.5 72.2,31.6 72.4,32.9 72.6,34.4 72.9,35.9 73.1,37.5 73.3,39.0 73.5,40.5 73.8,42.0 74.0,43.5 74.2,45.0 74.4,46.5 74.6,48.0 74.7,49.5 74.9,50.9 75.0,52.4 75.1,53.8 75.2,55.4 75.3,57.0 75.5,58.7 75.7,60.5 75.9,62.3 76.1,64.3 76.3,66.3 76.5,68.4 76.7,70.7 76.9,73.1 77.1,75.7 77.2,78.2 77.4,80.8 77.6,83.2 77.8,85.6 78.0,87.9 78.2,90.2 78.3,92.5 78.5,94.7 78.7,96.8 78.9,98.9 79.0,101.0 79.1,103.0 79.3,104.9 79.4,106.8 79.6,108.5 79.8,110.1 80.0,111.6 80.2,113.0 80.4,114.3 80.6,115.5 80.9,116.5 81.2,117.3 81.5,118.0 81.8,118.6 82.1,119.0 82.4,119.3 82.8,119.4 83.1,119.3 83.5,119.0 83.9,118.6 84.2,118.1 84.6,117.5 85.0,117.0 85.4,116.4 85.7,115.6 86.1,114.9 86.4,114.1 86.8,113.6 87.1,113.4 87.4,113.5 87.8,113.7 88.1,114.1 88.4,114.7 88.7,115.5 89.0,116.5 89.2,117.7 89.5,119.1 89.7,120.6 89.9,122.3 90.0,124.1 90.2,126.0 90.5,128.0 90.6,130.1 90.8,132.3 91.0,134.6 91.3,136.9 91.5,139.0 91.8,141.1 92.1,143.3 92.4,145.5 92.7,147.5 93.1,149.4 93.4,151.0 93.7,152.3 94.1,153.5 94.4,154.4 94.8,155.2 95.1,155.9 95.5,156.5 95.9,157.0 96.3,157.3 96.8,157.6 97.2,157.7 97.6,157.8 98.0,158.0 98.4,158.2 98.8,158.3 99.2,158.4 99.5,158.5 99.8,158.5 100.0,158.6" fill="none" stroke="#ff3030" stroke-width="1.2" stroke-linejoin="round" stroke-linecap="round"/>
<polyline points="100.0,158.6 100.8,159.1 101.8,158.3 103.0,159.0 104.4,158.6 105.1,158.6 105.8,159.4 106.5,158.8 107.3,158.8 108.0,159.0 108.7,159.2 110.0,158.8 111.2,159.0 112.5,158.4 113.7,158.6 115.0,158.6 116.2,158.2 117.5,158.2 118.7,158.1 120.0,158.5 121.3,158.5 122.6,158.4 124.0,158.4 125.3,157.8 126.6,158.2 127.9,158.2 129.1,158.4 130.2,157.8 131.2,158.0 132.1,157.5 132.9,158.1 133.7,157.6 134.5,158.0 135.3,159.0 136.1,157.8 137.0,158.9 138.0,158.6 139.0,158.3 140.1,158.4 141.2,158.3 142.3,158.2 143.4,157.6 144.5,157.3 145.6,157.1 146.7,156.8 147.7,156.9 148.8,156.5 149.9,156.9 150.9,155.7 152.0,155.8 153.0,155.7 154.1,155.2 155.2,156.4 156.2,154.8 157.3,155.5 158.3,155.3 159.4,156.0 160.5,154.6 161.5,155.6 162.6,154.9 163.7,155.1 164.7,154.9 165.8,155.4 166.8,154.8 167.9,155.1 168.9,155.3 170.0,155.8 171.1,154.3 172.2,155.6 173.4,155.3 174.6,154.8 175.8,155.0 176.9,154.6 178.0,155.2 179.1,154.6 180.0,154.3 180.8,154.2 181.5,154.0 182.2,153.8 182.8,153.4 183.4,154.2 183.9,152.6 184.5,152.2 185.1,152.8 185.7,152.5 186.3,152.4 186.9,152.0 187.5,151.7 188.2,151.6 188.8,151.6 189.5,150.8 190.2,150.5 191.0,150.9 191.8,150.1 192.7,149.2 193.6,149.9 194.5,149.0 195.4,148.2 196.2,147.6 197.0,147.8 197.7,147.1 198.4,146.8 199.1,146.5 199.7,146.6 200.4,147.0 201.0,146.2 201.6,145.7 202.2,146.2 202.8,145.8 203.5,145.8 204.1,145.7 204.7,144.9 205.3,144.7 205.9,144.5 206.4,144.0 206.9,144.5 207.3,144.7 207.7,144.3 208.1,144.2 208.4,144.2 208.8,144.2 209.1,144.3 209.4,144.7 209.8,144.8 210.2,145.3 210.6,145.3 211.0,146.5 211.5,146.9 211.9,147.1 212.3,147.3 212.8,148.8 213.2,149.8 213.6,149.8 214.0,150.6 214.4,151.3 214.8,152.5 215.3,152.8 215.7,154.2 216.1,154.5 216.6,155.6 217.1,156.0 217.6,156.6 218.1,156.8 218.6,157.7 219.2,158.5 219.7,159.3 220.3,159.7 220.9,159.9 221.4,160.6 221.9,161.2 222.4,161.1 222.8,161.2 223.4,161.5 224.1,162.1 224.9,162.2 226.0,161.9 227.3,162.5 228.0,162.3 228.8,162.3 229.6,163.1 230.4,163.0 231.3,162.6 232.2,162.9 233.1,163.2 234.1,162.8 235.0,163.1 236.0,163.4 237.0,162.7 238.0,163.5 239.0,163.7 240.0,163.7 241.0,163.1 242.0,163.8 243.1,163.4 244.1,164.0 244.8,164.1 245.6,164.0 246.3,163.7 247.0,163.8 247.8,164.4 248.5,163.8 249.3,164.4 250.0,164.4 250.8,164.2 251.6,165.2 252.3,164.4 253.1,165.2 253.9,163.7 254.7,163.7 255.5,164.9 256.4,164.8 257.2,164.5 258.0,164.6 258.9,164.0 259.7,164.4 260.6,164.3 261.5,164.6 262.4,165.0 263.3,164.7 264.2,164.8 265.1,164.4 266.0,164.5 266.8,164.7 267.5,164.6 268.2,165.1 268.9,164.3 269.6,165.3 270.3,164.3 271.0,165.0 271.7,164.4 272.4,165.2 273.1,164.7 273.8,164.8 274.5,164.9 275.5,164.4 276.4,164.2 277.3,163.9 278.2,165.0 279.1,164.4 280.0,164.4 280.9,164.6 281.7,165.3 282.6,164.0 283.4,164.7 284.3,164.5 285.1,164.8 286.0,164.0 286.8,164.5 287.6,164.9 288.5,165.2 289.3,165.2 290.1,164.4 290.9,164.7 291.8,164.7 292.6,164.2 293.4,164.2 294.2,165.0 295.0,164.8 295.9,164.7 296.7,165.2 297.5,164.4 298.3,165.0 299.2,164.8 300.0,164.8 300.9,165.0 301.7,164.9 302.6,164.9 303.5,164.9 304.4,165.6 305.3,164.8 306.2,165.3 307.1,165.1 308.1,164.8 309.0,165.2 309.9,164.7 310.8,165.4 311.7,164.7 312.6,164.9 313.5,165.2 314.3,165.4 315.1,165.4 315.9,165.4 316.7,165.0 317.4,164.8 318.1,165.3 319.1,165.3 320.0,164.9 320.8,165.6 321.5,165.3 322.8,165.0 323.9,165.5 324.8,164.9 325.5,165.1 326.0,165.6 326.5,164.9 327.0,165.5" fill="none" stroke="#ff3030" stroke-width="1.2" stroke-linejoin="round" stroke-linecap="round"/>
<polyline points="55.7,366.1 56.0,365.7 56.5,365.1 57.0,364.4 57.7,363.5 58.4,362.6 59.1,361.6 59.9,360.5 60.8,359.2 61.8,357.8 62.8,356.3 63.8,354.9 64.8,353.6 65.8,352.3 66.7,351.0 67.7,349.7 68.7,348.5 69.6,347.3 70.5,346.2 71.3,345.4 72.1,344.7 72.8,344.0 73.5,343.4 74.3,342.7 75.3,341.8 76.4,340.7 77.7,339.5 79.0,338.2 80.4,336.9 81.8,335.5 83.1,334.2 84.4,332.9 85.7,331.6 87.0,330.3 88.3,329.1 89.6,327.7 90.9,326.4 92.2,325.0 93.6,323.7 94.9,322.3 96.3,320.9 97.5,319.5 98.8,318.0 99.9,316.5 101.0,314.9 102.1,313.3 103.1,311.7 104.1,310.0 105.0,308.3 105.9,306.5 106.7,304.7 107.5,302.8 108.3,301.0 109.0,299.1 109.7,297.4 110.3,295.7 110.9,294.1 111.4,292.5 111.8,291.0 112.3,289.5 112.8,288.0 113.3,286.6 113.9,285.1 114.4,283.7 114.9,282.4 115.4,281.2 115.9,280.1 116.3,279.2 116.7,278.5 117.1,278.0 117.4,277.4 117.7,276.8 118.0,276.0 118.3,275.1 118.5,274.2 118.7,273.3 118.9,272.2 119.1,270.9 119.2,269.5 119.4,267.7 119.5,265.6 119.6,263.4 119.7,261.1 119.8,259.0 119.9,257.2 120.0,255.7 120.1,254.4 120.2,253.2 120.3,252.1 120.4,251.2 120.5,250.4 120.6,249.8 120.8,249.4 120.9,249.2 121.1,249.0 121.3,248.9 121.5,248.8 121.7,248.6 122.0,248.4 122.2,248.3 122.5,248.2 122.8,248.0 123.0,247.9 123.2,247.7 123.4,247.5 123.6,247.3 123.8,247.1 124.0,247.0 124.2,247.0 124.5,247.1 124.7,247.3 124.9,247.5 125.1,247.8 125.3,248.0 125.5,248.2 125.7,248.4 125.9,248.6 126.1,248.8 126.3,248.9 126.5,249.0 126.8,249.1 127.0,249.1 127.3,249.1 127.6,249.0 128.0,248.8 128.3,248.7 128.6,248.5 128.9,248.3 129.2,248.0 129.5,247.7 129.8,247.4 130.1,247.0 130.5,246.6 130.9,246.2 131.3,245.7 131.7,245.2 132.1,244.6 132.6,244.1 133.0,243.5 133.4,242.9 133.8,242.3 134.2,241.7 134.7,241.0 135.1,240.4 135.5,239.8 135.9,239.1 136.3,238.5 136.8,237.8 137.2,237.2 137.6,236.6 138.0,236.0 138.4,235.4 138.8,234.9 139.2,234.3 139.7,233.8 140.1,233.3 140.5,232.9 140.9,232.5 141.3,232.2 141.8,232.0 142.2,231.8 142.6,231.6 143.0,231.6 143.4,231.7 143.9,231.8 144.3,232.0 144.7,232.3 145.1,232.6 145.5,232.9 145.9,233.2 146.2,233.6 146.5,234.0 146.8,234.4 147.1,234.9 147.4,235.4 147.7,236.0 148.0,236.7 148.3,237.4 148.6,238.2 148.9,239.0 149.2,239.8 149.6,240.5 149.8,241.3 150.1,242.1 150.4,242.9 150.8,243.8 151.1,244.8 151.5,245.9 151.9,247.1 152.3,248.4 152.7,249.8 153.2,251.0 153.6,252.2 154.0,253.4 154.4,254.4 154.8,255.5 155.3,256.5 155.7,257.5 156.1,258.5 156.5,259.5 156.9,260.4 157.3,261.4 157.8,262.3 158.2,263.2 158.6,264.1 159.0,265.0 159.4,265.8 159.8,266.7 160.2,267.5 160.6,268.3 161.1,269.1 161.6,269.9 162.0,270.7 162.5,271.4 163.1,272.2 163.6,273.0 164.2,273.8 164.9,274.5 165.7,275.4 166.5,276.2 167.3,277.0 168.1,277.7 168.9,278.4 169.7,279.0 170.4,279.5 171.1,280.0 171.9,280.4 172.7,280.9 173.6,281.2 174.5,281.6 175.5,281.9 176.5,282.2 177.5,282.5 178.7,282.8 179.9,283.1 181.3,283.4 182.8,283.7 184.4,284.1 186.0,284.4 187.7,284.7 189.2,285.0 190.8,285.3 192.4,285.6 194.0,285.8 195.6,286.1 197.1,286.3 198.6,286.6 200.0,286.8 201.4,287.1 202.7,287.3 203.9,287.6 205.2,287.8 206.4,288.0 207.6,288.2 208.7,288.4 209.7,288.6 210.8,288.7 211.9,288.9 213.0,289.0 214.2,289.1 215.4,289.3 216.6,289.5 217.8,289.6 219.0,289.6 220.2,289.6 221.3,289.5 222.4,289.3 223.5,289.0 224.6,288.7 225.8,288.4 227.0,288.0 228.3,287.6 229.7,287.2 231.2,286.7 232.7,286.3 234.2,285.8 235.6,285.4 237.0,285.0 238.4,284.7 239.9,284.4 241.3,284.0 242.7,283.7 244.1,283.4 245.5,283.1 246.9,282.7 248.3,282.4 249.8,282.0 251.2,281.7 252.6,281.4 254.0,281.1 255.4,280.9 256.8,280.6 258.2,280.4 259.7,280.1 261.1,279.9 262.6,279.7 264.1,279.5 265.7,279.3 267.2,279.1 268.7,278.9 270.0,278.7 271.1,278.5 272.1,278.4 273.0,278.3 273.9,278.2 275.0,278.0 276.2,277.9 277.7,277.7 279.3,277.6 281.1,277.4 282.9,277.2 284.7,277.1 286.5,276.9 288.3,276.7 290.2,276.5 292.0,276.4 293.8,276.2 295.4,276.0 296.7,275.8 297.6,275.6 298.1,275.4 298.4,275.2 298.7,275.0 299.2,274.8 300.1,274.6 301.4,274.4 303.1,274.2 305.0,274.0 306.9,273.8 308.7,273.6 310.3,273.4 311.6,273.2 312.8,273.1 313.8,272.9 314.8,272.8 315.9,272.7 317.1,272.6 318.5,272.6 320.1,272.5 321.7,272.6 323.3,272.6 324.6,272.6 325.5,272.6" fill="none" stroke="#4aa24a" stroke-width="1.2" stroke-linejoin="round" stroke-linecap="round"/>
<polyline points="55.6,258.8 56.0,259.1 56.6,259.6 57.4,260.1 58.1,260.7 58.9,261.2 59.7,261.7 60.4,262.1 61.2,262.5 61.9,262.9 62.7,263.3 63.5,263.6 64.4,264.0 65.3,264.4 66.3,264.7 67.3,265.1 68.4,265.4 69.5,265.8 70.6,266.1 71.8,266.4 73.1,266.7 74.5,267.0 75.9,267.2 77.2,267.5 78.4,267.8 79.6,268.1 80.7,268.4 81.7,268.7 82.8,269.0 83.8,269.4 84.7,269.7 85.6,270.0 86.3,270.4 87.1,270.7 87.8,271.1 88.5,271.5 89.4,272.0 90.3,272.6 91.4,273.2 92.4,273.8 93.5,274.5 94.5,275.2 95.6,275.9 96.7,276.6 97.8,277.4 99.0,278.1 100.1,278.8 101.1,279.5 101.9,280.0 102.5,280.4 102.9,280.6 103.1,280.8 103.4,280.9 103.6,281.0 104.0,281.2 104.5,281.4 105.0,281.6 105.5,281.8 106.1,282.0 106.7,282.3 107.2,282.6 107.7,283.0 108.3,283.3 108.9,283.8 109.4,284.2 109.9,284.7 110.4,285.1 110.8,285.5 111.2,286.0 111.6,286.4 112.0,286.8 112.4,287.3 112.8,287.7 113.1,288.1 113.5,288.5 113.9,289.0 114.3,289.4 114.7,289.7 115.1,290.1 115.5,290.4 115.9,290.7 116.3,291.0 116.7,291.2 117.1,291.5 117.5,291.7 117.9,291.9 118.3,292.1 118.7,292.2 119.1,292.4 119.5,292.5 119.9,292.7 120.3,292.9 120.7,293.1 121.1,293.4 121.4,293.6 121.9,293.9 122.3,294.2 122.8,294.5 123.3,294.9 123.8,295.2 124.4,295.6 125.0,295.9 125.5,296.3 126.0,296.6 126.6,297.0 127.1,297.3 127.7,297.6 128.2,298.0 128.7,298.3 129.2,298.6 129.6,299.0 130.0,299.3 130.4,299.6 130.9,300.0 131.4,300.4 131.9,300.8 132.5,301.2 133.1,301.6 133.8,302.1 134.4,302.6 135.1,303.2 135.8,303.9 136.5,304.7 137.3,305.6 138.0,306.5 138.8,307.5 139.6,308.5 140.4,309.6 141.2,310.9 142.0,312.2 142.9,313.5 143.7,314.8 144.5,316.0 145.3,317.1 146.1,318.2 146.8,319.3 147.6,320.4 148.3,321.4 149.1,322.5 149.9,323.6 150.6,324.7 151.3,325.8 152.1,326.9 152.8,328.0 153.6,329.1 154.4,330.3 155.2,331.5 156.0,332.8 156.7,334.0 157.5,335.1 158.2,336.2 158.8,337.1 159.4,337.9 159.9,338.6 160.4,339.3 161.0,340.1 161.8,341.0 162.7,342.1 163.8,343.3 165.0,344.6 166.2,346.0 167.4,347.3 168.6,348.6 169.7,349.9 170.9,351.2 172.0,352.4 173.2,353.7 174.4,355.0 175.5,356.3 176.6,357.6 177.8,358.9 178.9,360.2 180.0,361.4 181.2,362.7 182.3,364.0 183.4,365.3 184.6,366.5 185.7,367.8 186.8,369.1 188.0,370.3 189.1,371.6 190.3,372.9 191.4,374.2 192.6,375.5 193.8,376.8 194.9,377.9 195.9,379.0 196.8,379.9 197.7,380.7 198.6,381.4 199.4,382.1 200.2,382.7 201.0,383.3 201.8,383.9 202.6,384.5 203.4,385.0 204.3,385.5 205.2,386.0 206.1,386.4 207.1,386.8 208.0,387.2 209.0,387.5 210.1,387.8 211.3,388.1 212.8,388.4 214.4,388.6 216.1,388.9 218.0,389.1 220.2,389.3 222.7,389.4 225.6,389.5 229.1,389.6 233.1,389.6 237.4,389.5 242.0,389.5 246.6,389.4 251.2,389.4 255.6,389.4 259.9,389.4 264.4,389.4 269.0,389.5 274.2,389.5 280.0,389.4 287.1,389.3 295.6,389.1 304.6,388.9 313.1,388.8 320.4,388.6 325.5,388.5" fill="none" stroke="#4a4aff" stroke-width="1.2" stroke-linejoin="round" stroke-linecap="round"/>
<polyline points="55.6,327.6 55.7,327.2 55.8,327.4 55.9,325.4 56.0,325.7 56.1,323.9 56.3,324.7 56.4,323.6 56.5,323.6 56.6,322.3 56.7,322.2 56.8,321.4 56.9,320.8 57.0,320.8 57.1,319.9 57.2,320.2 57.3,320.6 57.4,320.5 57.5,320.5 57.6,322.1 57.8,321.7 57.9,321.9 58.0,322.8 58.1,322.9 58.2,323.3 58.3,323.6 58.4,324.9 58.4,324.2 58.5,324.4 58.6,324.8 58.7,325.5 58.8,324.7 58.9,324.7 59.1,326.4 59.2,324.8 59.4,325.6 59.6,326.3 59.8,327.3 60.0,326.2 60.3,325.8 60.5,327.6 60.8,327.5 61.0,328.0 61.3,329.0 61.6,329.4 62.0,330.0 62.3,330.2 62.5,331.5 62.8,332.0 63.0,331.7 63.3,331.7 63.5,332.5 63.7,332.7 63.9,332.2 64.1,332.7 64.3,333.7 64.5,333.5 64.7,333.7 64.9,334.4 65.0,334.7 65.2,335.2 65.3,334.7 65.5,336.8 65.7,336.5 65.9,336.3 66.1,337.4 66.4,337.3 66.6,337.3 66.9,337.9 67.1,338.6 67.4,337.9 67.7,338.5 68.0,339.0 68.3,337.7 68.6,338.2 68.9,339.0 69.3,338.2 69.6,339.1 70.0,340.0 70.3,340.1 70.6,340.1 70.9,339.1 71.2,341.1 71.5,340.4 71.8,340.5 72.1,340.5 72.4,339.5 72.7,339.7 73.0,340.0 73.3,341.5 73.6,340.5 73.9,341.0 74.2,341.2 74.4,341.8 74.7,342.0 75.0,342.0 75.3,341.3 75.6,340.7 75.8,341.8 76.1,341.7 76.4,341.9 76.7,341.1 76.9,340.6 77.2,340.8 77.5,339.8 77.8,339.9 78.1,339.9 78.4,340.4 78.6,341.1 78.9,340.5 79.3,340.6 79.6,340.1 80.0,339.9 80.4,339.4 80.9,339.2 81.4,338.0 82.0,338.3 82.5,337.9 83.0,338.5 83.5,338.1 83.9,338.0 84.2,337.9 84.5,336.7 84.8,336.9 85.0,336.9 85.2,335.7 85.4,335.8 85.6,334.8 85.8,333.8 86.0,334.2 86.3,333.3 86.5,333.4 86.8,332.7 87.0,332.7 87.3,331.1 87.5,332.6 87.8,331.9 88.1,330.7 88.3,330.1 88.6,330.1 88.8,329.9 89.1,329.4 89.3,329.0 89.6,327.5 89.8,327.5 90.0,328.2 90.3,327.3 90.5,326.1 90.8,326.1 91.0,325.4 91.2,325.2 91.5,325.9 91.7,324.9 91.9,325.2 92.2,324.4 92.4,323.3 92.6,323.4 92.8,324.4 93.0,322.7 93.3,322.3 93.5,323.1 93.7,322.2 94.0,321.9 94.3,322.3 94.5,320.5 94.8,321.2 95.1,320.3 95.3,319.9 95.6,319.9 95.8,320.6 96.1,319.9 96.3,319.0 96.6,319.2 96.8,320.2 97.0,319.9 97.3,318.8 97.5,320.3 97.7,318.9 98.0,318.4 98.2,318.8 98.5,319.1 98.7,319.3 99.0,319.0 99.2,318.2 99.5,318.1 99.8,317.7 100.0,318.4 100.3,318.2 100.5,318.6 100.8,318.0 101.0,318.4 101.3,318.3 101.5,318.2 101.7,318.3 102.0,318.5 102.2,318.4 102.5,319.3 102.7,319.2 102.9,318.6 103.2,319.6 103.4,319.6 103.6,320.4 103.8,319.8 104.1,320.1 104.3,320.1 104.5,320.8 104.7,321.2 104.8,321.3 105.0,321.4 105.1,322.0 105.3,322.0 105.4,322.3 105.5,322.0 105.5,322.7 105.6,322.4 105.7,322.7 105.8,323.5 105.9,324.7 106.0,324.6 106.1,324.6 106.2,324.9 106.2,325.9 106.3,326.5 106.4,326.8 106.5,326.4 106.6,326.9 106.7,326.9 106.8,327.3 106.9,327.3 107.0,327.7 107.1,326.9 107.2,327.3 107.3,327.9 107.4,326.9 107.5,327.1 107.6,325.6 107.7,325.2 107.8,324.8 107.9,323.2 108.0,322.5 108.1,323.1 108.2,320.9 108.3,320.0 108.4,319.2 108.5,318.5 108.5,317.6 108.6,317.0 108.8,315.9 108.9,314.2 109.1,313.0 109.2,311.8 109.2,311.0 109.3,310.6 109.4,310.5 109.6,309.5 109.7,309.0 109.8,308.3 109.9,307.1 110.0,307.4 110.1,305.5 110.3,304.2 110.5,303.2 110.7,303.0 110.9,301.7 111.1,300.8 111.3,300.8 111.4,300.7 111.6,299.8 111.8,299.5 112.0,300.0 112.2,300.0 112.4,300.1 112.6,299.5 112.8,300.4 113.0,300.8 113.2,300.4 113.4,302.5 113.6,302.7 113.8,303.5 114.0,305.8 114.2,306.0 114.4,306.9 114.6,308.6 114.7,309.6 114.8,310.4 114.9,310.7 115.0,311.1 115.2,312.5 115.4,313.8 115.5,314.4 115.6,315.5 115.7,316.0 115.8,317.0 115.9,317.3 116.0,318.0 116.0,319.0 116.1,319.6 116.3,321.7 116.5,322.1 116.7,323.8 116.9,325.0 117.1,325.6 117.3,327.7 117.5,328.6 117.7,328.6 117.9,330.9 118.1,331.9 118.3,331.9 118.5,333.8 118.6,333.7 118.8,333.7 118.9,334.9 119.1,334.9 119.2,334.7 119.4,334.5 119.5,335.6 119.6,335.0 119.8,335.4 119.9,334.8 120.0,333.9 120.2,333.3 120.3,333.7 120.5,333.0 120.6,331.9 120.8,330.7 120.9,329.5 121.1,328.9 121.3,328.8 121.4,327.4 121.6,326.2 121.8,325.1 121.9,325.4 122.0,324.8 122.2,325.3 122.3,326.0 122.4,326.5 122.5,326.6 122.6,326.8 122.7,327.4 122.8,328.3 122.9,327.7 123.0,327.0 123.1,328.3 123.3,327.6 123.4,328.5 123.5,327.1 123.6,327.1 123.8,326.8 123.9,326.8 124.0,326.0 124.2,325.2 124.4,324.5 124.5,324.9 124.7,324.3 124.8,323.9 125.0,325.0 125.1,324.3 125.3,324.5 125.4,323.8 125.6,324.4 125.7,324.3 125.8,324.4 126.0,324.9 126.1,324.8 126.2,324.5 126.3,324.1 126.5,323.1 126.6,323.0 126.7,323.2 126.8,322.5 126.9,321.9 127.0,322.2 127.1,321.3 127.2,321.0 127.3,321.4 127.4,320.4 127.4,321.0 127.5,320.5 127.6,320.7 127.7,321.1 127.8,320.4 127.9,322.6 127.9,322.8 128.0,323.9 128.0,324.9 128.0,326.3 128.1,326.5 128.1,328.0 128.2,328.2 128.3,329.2 128.4,329.2 128.5,328.8 128.5,327.6 128.6,326.6 128.6,325.7 128.7,324.2 128.7,324.6 128.8,323.6 128.8,322.7 128.8,321.8 128.9,320.6 128.9,319.9 128.9,319.7 129.0,318.2 129.0,317.5 129.0,317.6 129.1,316.6 129.1,315.3 129.2,314.6 129.3,313.5 129.4,313.4 129.5,312.1 129.6,312.0 129.7,312.0 129.8,312.3 130.0,311.4 130.1,311.5 130.3,311.1 130.4,311.0 130.6,311.1 130.8,311.6 131.0,312.1 131.1,311.5 131.3,311.6 131.5,311.6 131.7,311.8 131.8,311.7 132.0,310.5 132.2,310.8 132.3,309.8 132.5,310.2 132.6,309.0 132.8,308.6 133.0,308.4 133.1,308.3 133.3,307.5 133.5,307.6 133.7,307.2 133.9,306.7 134.0,306.4 134.2,306.3 134.4,305.2 134.5,305.1 134.7,304.7 134.9,303.4 135.0,304.1 135.2,303.2 135.4,302.8 135.5,302.5 135.6,302.3 135.8,301.9 135.9,301.5 136.1,300.5 136.2,300.7 136.3,300.2 136.4,299.5 136.5,299.5 136.6,299.9 136.6,299.9 136.7,300.3 136.7,300.3 136.7,301.1 136.8,301.9 136.8,301.2 136.9,300.2 137.0,301.4 137.1,299.9 137.2,299.0 137.3,297.9 137.4,298.5 137.6,298.1 137.7,297.4 137.8,296.2 137.9,296.6 138.0,295.4 138.1,294.7 138.2,294.6 138.4,294.2 138.5,293.7 138.6,293.4 138.7,291.7 138.8,292.9 138.9,291.3 139.0,291.2 139.2,290.0 139.3,289.8 139.4,289.2 139.5,288.1 139.6,288.8 139.7,288.8 139.8,288.2 139.9,288.0 140.0,288.9 140.1,289.2 140.2,289.9 140.3,290.0 140.4,290.7 140.5,290.1 140.6,289.5 140.8,289.3 140.9,287.7 141.1,288.0 141.2,287.5 141.4,287.5 141.5,287.4 141.7,287.2 141.8,287.3 142.0,286.5 142.1,286.8 142.3,286.5 142.5,286.5 142.6,286.6 142.8,286.3 143.0,286.5 143.1,286.5 143.3,287.1 143.5,286.7 143.7,287.0 143.9,288.0 144.0,287.2 144.2,287.0 144.4,287.1 144.5,285.8 144.7,286.2 144.8,285.8 145.0,285.3 145.1,285.1 145.3,284.7 145.5,284.6 145.7,283.6 145.9,284.0 146.2,283.5 146.4,284.3 146.7,283.8 146.9,283.1 147.2,283.7 147.4,283.1 147.6,283.9 147.9,283.2 148.1,282.2 148.3,282.9 148.6,283.3 148.8,282.9 149.0,282.4 149.2,283.0 149.4,283.0 149.6,283.5 149.7,283.4 149.9,283.4 150.1,283.1 150.2,283.8 150.4,284.0 150.5,284.1 150.6,284.5 150.7,284.1 150.8,285.2 150.9,285.3 151.0,285.8 151.1,285.8 151.2,285.8 151.3,286.0 151.4,286.0 151.6,285.1 151.7,284.8 151.8,283.7 152.0,283.6 152.1,282.9 152.3,281.9 152.4,282.8 152.5,281.9 152.6,282.6 152.7,282.3 152.8,282.5 152.9,284.0 153.0,283.6 153.1,283.7 153.3,284.9 153.5,284.6 153.7,285.5 153.9,286.8 154.2,286.1 154.4,286.7 154.7,287.1 154.9,287.2 155.1,287.2 155.3,288.2 155.5,287.6 155.7,288.0 155.9,288.0 156.1,287.5 156.2,288.3 156.4,288.4 156.6,288.8 156.8,289.0 157.0,289.6 157.1,288.2 157.3,289.0 157.5,289.3 157.6,289.3 157.8,290.1 158.0,290.2 158.2,290.5 158.4,290.0 158.6,290.6 158.7,291.3 158.9,291.5 159.1,291.7 159.3,292.3 159.5,292.5 159.7,292.4 159.9,293.9 160.1,293.1 160.3,294.0 160.5,294.2 160.7,294.6 160.9,294.2 161.1,294.4 161.3,295.3 161.5,295.6 161.7,294.8 161.9,295.1 162.1,296.3 162.3,296.8 162.5,297.2 162.7,297.8 162.9,297.4 163.1,299.2 163.3,298.7 163.5,299.1 163.7,298.9 163.9,298.0 164.1,299.3 164.2,299.3 164.4,300.0 164.6,300.1 164.8,300.9 165.0,300.6 165.2,301.2 165.4,301.8 165.6,301.8 165.8,302.3 166.0,303.1 166.2,304.0 166.4,303.3 166.6,304.1 166.8,303.5 167.0,304.1 167.2,304.8 167.4,305.3 167.6,305.0 167.8,306.3 168.0,306.7 168.2,307.9 168.4,308.3 168.5,308.6 168.7,308.6 168.9,309.0 169.1,308.4 169.2,308.2 169.4,307.3 169.5,307.0 169.7,306.4 169.8,306.4 170.0,306.0 170.1,304.9 170.2,305.1 170.4,304.9 170.5,304.8 170.7,304.0 170.8,303.8 171.0,303.4 171.1,303.8 171.3,302.7 171.5,303.7 171.6,302.8 171.8,305.1 171.9,305.2 172.1,304.4 172.2,305.6 172.4,305.6 172.5,305.7 172.6,306.5 172.8,306.4 172.9,307.3 173.0,306.6 173.2,306.4 173.3,306.8 173.4,306.9 173.6,307.0 173.8,306.7 174.0,305.5 174.2,305.5 174.4,305.5 174.6,304.9 174.8,305.3 175.0,304.5 175.2,304.5 175.4,304.2 175.6,304.3 175.8,303.5 176.0,305.1 176.2,303.9 176.4,303.8 176.6,303.3 176.8,304.2 176.9,303.7 177.1,304.6 177.3,305.2 177.5,305.2 177.7,304.9 177.9,305.9 178.1,305.4 178.3,305.6 178.5,305.6 178.7,305.4 178.9,305.7 179.1,304.9 179.3,304.6 179.5,305.8 179.7,304.8 179.9,304.8 180.1,305.0 180.2,304.5 180.3,304.0 180.5,304.2 180.6,303.7 180.7,304.1 180.9,303.5 181.0,303.4 181.1,303.6 181.3,302.3 181.5,302.0 181.6,302.7 181.8,302.7 181.9,302.0 182.1,301.6 182.2,302.4 182.3,302.3 182.4,302.8 182.5,302.0 182.6,303.2 182.7,303.3 182.8,303.7 182.9,304.9 183.0,305.3 183.1,305.1 183.2,305.5 183.3,306.6 183.4,306.6 183.5,306.5 183.6,306.9 183.7,306.7 183.8,306.0 183.9,306.1 184.0,306.0 184.1,305.5 184.2,304.0 184.2,303.5 184.3,302.9 184.4,301.8 184.5,302.5 184.6,301.7 184.7,301.7 184.8,299.7 184.9,299.9 185.0,300.7 185.1,299.0 185.2,298.7 185.3,299.6 185.4,300.3 185.5,300.3 185.6,300.0 185.7,301.2 185.8,301.7 185.9,302.2 186.0,302.8 186.1,303.4 186.2,303.8 186.3,304.3 186.4,304.4 186.5,304.2 186.6,303.7 186.7,304.9 186.8,304.2 186.9,306.0 187.0,304.5 187.2,304.2 187.3,304.1 187.4,304.9 187.6,304.7 187.7,304.8 187.9,304.6 188.0,304.1 188.1,305.0 188.3,304.5 188.5,304.5 188.6,305.8 188.8,306.0 188.9,305.6 189.1,306.2 189.2,307.0 189.4,307.2 189.5,306.5 189.7,307.7 189.8,306.2 190.0,307.6 190.1,307.9 190.3,307.8 190.4,308.0 190.6,307.4 190.7,308.3 190.9,308.7 191.0,308.3 191.2,308.9 191.3,308.9 191.5,308.0 191.6,308.6 191.7,309.0 191.8,307.7 191.9,308.1 192.0,307.8 192.0,306.7 192.1,306.7 192.2,306.9 192.3,306.6 192.4,305.6 192.5,306.3 192.6,305.9 192.8,305.6 192.9,306.2 193.0,305.9 193.1,305.8 193.2,306.2 193.3,306.4 193.4,307.1 193.4,307.0 193.5,306.9 193.6,309.0 193.7,309.3 193.8,309.7 193.9,310.0 194.1,310.4 194.3,311.0 194.5,311.0 194.7,312.2 194.9,312.3 195.1,312.2 195.3,313.0 195.5,312.9 195.7,313.0 195.8,313.2 195.9,313.9 196.0,312.0 196.2,312.4 196.3,312.2 196.4,311.9 196.5,312.2 196.6,311.2 196.8,311.0 196.9,311.0 197.0,310.3 197.1,311.3 197.2,310.2 197.4,311.0 197.5,311.4 197.6,310.8 197.8,311.4 197.9,311.9 198.0,313.2 198.1,313.1 198.3,312.7 198.4,314.5 198.5,315.0 198.6,314.1 198.7,314.3 198.8,317.1 198.9,316.5 199.1,316.0 199.2,317.9 199.3,318.4 199.4,316.9 199.5,318.7 199.7,318.5 199.8,318.1 199.9,317.7 200.1,318.1 200.2,317.4 200.4,317.8 200.5,317.7 200.6,317.7 200.8,318.3 201.0,318.7 201.1,318.8 201.3,318.9 201.4,319.7 201.6,318.6 201.7,319.5 201.8,319.9 201.9,320.7 202.0,319.5 202.1,320.8 202.2,321.2 202.3,321.8 202.4,323.1 202.5,322.6 202.6,322.8 202.7,323.4 202.8,324.0 202.9,323.9 203.0,325.0 203.1,324.0 203.2,325.4 203.3,325.3 203.4,325.5 203.6,325.8 203.7,324.9 203.9,325.1 204.0,325.0 204.2,324.5 204.4,324.4 204.5,324.5 204.6,325.3 204.8,324.0 204.9,324.7 205.1,325.5 205.2,326.3 205.3,325.9 205.5,326.8 205.6,326.6 205.7,326.8 205.9,326.8 206.0,328.1 206.2,329.3 206.3,329.1 206.5,329.1 206.6,330.3 206.8,329.9 207.0,330.4 207.1,331.7 207.2,331.6 207.4,332.2 207.6,332.1 207.7,332.2 207.9,332.6 208.0,332.7 208.2,333.6 208.3,332.9 208.5,332.9 208.6,333.7 208.8,334.8 208.9,334.5 209.1,334.1 209.2,336.6 209.3,335.5 209.5,336.3 209.6,337.1 209.7,337.5 209.9,337.7 210.0,337.6 210.1,338.9 210.3,338.6 210.5,339.2 210.6,339.8 210.8,339.4 211.0,338.9 211.2,339.5 211.4,340.2 211.6,340.3 211.8,339.6 212.0,340.4 212.2,340.8 212.4,341.4 212.6,341.4 212.8,341.5 213.0,341.6 213.2,342.2 213.4,342.5 213.6,342.3 213.9,342.5 214.1,343.5 214.3,342.9 214.6,342.7 214.8,343.5 215.1,342.9 215.3,343.1 215.5,344.2 215.8,344.0 216.1,344.6 216.3,344.8 216.6,344.3 216.8,345.1 217.1,344.9 217.3,345.4 217.5,345.6 217.7,345.6 217.9,345.2 218.1,346.0 218.3,346.0 218.5,346.4 218.7,345.9 218.9,346.6 219.1,346.6 219.3,346.7 219.5,347.0 219.7,347.3 219.9,347.0 220.1,347.7 220.3,347.9 220.5,348.6 220.7,348.6 220.9,349.5 221.0,349.4 221.2,349.5 221.3,349.7 221.5,349.2 221.7,350.3 221.8,351.1 221.9,350.5 222.1,352.0 222.2,352.3 222.3,352.7 222.5,352.9 222.6,353.6 222.7,353.5 222.8,353.9 222.9,353.7 223.0,353.3 223.1,352.2 223.2,352.5 223.3,351.1 223.4,350.8 223.5,350.3 223.6,349.4 223.7,350.1 223.8,348.6 223.9,348.3 224.0,347.6 224.1,347.5 224.2,346.5 224.3,347.2 224.4,346.7 224.5,346.8 224.7,347.7 224.8,348.3 224.9,348.2 225.1,348.6 225.2,348.7 225.4,349.7 225.5,350.7 225.6,351.1 225.8,350.6 225.9,351.4 226.1,352.1 226.2,351.6 226.4,351.8 226.5,351.8 226.7,352.5 226.9,351.5 227.1,352.2 227.3,352.3 227.5,351.9 227.8,352.2 228.0,351.9 228.3,351.3 228.5,351.1 228.7,351.1 229.0,351.8 229.3,351.6 229.5,351.8 229.8,351.5 230.0,352.6 230.3,352.6 230.6,352.6 230.9,351.9 231.2,353.6 231.5,353.0 231.8,352.3 232.1,353.3 232.4,352.9 232.7,352.8 233.0,352.9 233.3,353.5 233.6,353.5 233.9,353.6 234.1,353.5 234.4,353.2 234.7,353.9 235.0,353.7 235.3,353.8 235.6,354.2 235.9,354.8 236.2,353.8 236.6,354.6 236.9,353.9 237.3,354.7 237.6,354.6 238.0,354.4 238.4,354.6 238.8,354.2 239.3,354.4 239.8,355.1 240.2,355.0 240.7,355.7 241.2,354.3 241.6,354.5 242.1,354.7 242.5,354.6 243.0,354.2 243.5,354.1 244.0,354.1 244.4,354.6 244.7,353.9 245.0,353.9" fill="none" stroke="#ff3030" stroke-width="1.2" stroke-linejoin="round" stroke-linecap="round"/>
<polyline points="245.0,353.7 245.4,354.2 245.9,353.8 246.5,353.8 247.2,353.5 247.9,354.0 248.6,354.8 249.3,354.4 250.0,354.8 250.6,354.4 251.2,354.5 251.8,354.4 252.4,353.3 253.0,354.8 253.6,354.6 254.3,354.6 255.0,353.3 255.8,353.3 256.7,353.8 257.6,354.1 258.5,354.6 259.4,354.4 260.4,354.8 261.2,354.1 262.0,354.7 262.7,354.7 263.4,354.0 264.0,355.4 264.6,354.7 265.2,355.0 265.7,353.8 266.3,353.6 266.8,353.8 267.3,353.8 267.8,354.2 268.3,353.8 268.8,353.2 269.2,352.8 269.7,352.9 270.2,353.8 270.7,352.5 271.3,353.1 271.9,353.1 272.6,351.8 273.2,352.7 273.9,353.4 274.5,351.4 275.0,352.4 275.5,352.5 275.9,352.2 276.2,353.1 276.4,353.0 276.6,352.4 276.8,354.0 277.0,354.1 277.2,354.4 277.5,354.9 277.8,354.3 278.1,354.2 278.4,353.4 278.7,354.5 279.1,353.8 279.4,354.0 279.6,353.6 279.9,353.9 280.1,354.5 280.3,356.0 280.5,354.4 280.7,355.3 280.8,356.8 281.0,357.9 281.1,357.6 281.3,356.3 281.5,355.8 281.7,357.2 281.8,356.2 282.0,355.5 282.2,356.2 282.4,355.8 282.6,354.9 282.8,354.6 283.0,354.6 283.3,355.2 283.5,354.5 283.8,354.4 284.0,354.5 284.3,353.3 284.5,355.1 284.7,355.1 284.9,355.1 285.0,353.9 285.1,355.1 285.2,356.4 285.3,355.2 285.4,356.6 285.5,357.7 285.7,356.6 285.9,358.6 286.1,358.1 286.3,357.8 286.6,358.2 286.8,358.5 287.1,358.2 287.4,359.0 287.6,358.0 287.8,358.3 288.1,359.5 288.3,359.2 288.6,358.9 288.8,360.2 289.1,360.7 289.3,359.6 289.5,359.0 289.7,359.4 289.9,358.9 290.1,358.1 290.3,358.4 290.5,356.2 290.7,356.9 290.8,355.0 291.0,355.0 291.1,356.0 291.3,356.7 291.4,357.1 291.5,357.4 291.7,357.9 291.8,358.5 291.9,359.1 292.0,358.7 292.1,358.6 292.2,358.2 292.3,357.0 292.4,356.5 292.6,355.4 292.7,355.5 292.8,353.9 292.9,353.2 293.0,353.5 293.1,354.4 293.3,355.9 293.4,356.2 293.5,357.6 293.6,359.4 293.8,357.5 293.9,358.6 294.0,359.3 294.1,359.0 294.2,358.3 294.4,357.1 294.5,356.9 294.6,355.9 294.7,354.7 294.9,356.0 295.1,354.4 295.3,353.5 295.5,353.6 295.7,353.4 295.9,353.3 296.1,351.8 296.3,352.8 296.5,353.6 296.7,352.1 296.8,352.7 296.9,353.1 297.1,353.0 297.2,353.2 297.4,351.2 297.6,351.9 297.8,351.8 298.1,352.3 298.4,352.4 298.7,350.1 299.1,352.1 299.5,350.5 299.9,351.7 300.2,350.5 300.6,351.6 300.9,352.5 301.3,352.0 301.6,352.7 302.0,353.6 302.3,353.7 302.7,354.1 303.0,355.5 303.4,355.5 303.8,354.9 304.2,356.7 304.5,354.5 304.9,355.7 305.3,355.0 305.7,355.3 306.0,355.8 306.3,355.7 306.5,356.4 306.7,355.7 306.9,356.4 307.0,358.4 307.2,358.2 307.3,358.7 307.5,358.9 307.7,360.8 307.9,360.4 308.1,360.6 308.3,358.7 308.6,358.7 308.8,357.5 309.1,358.1 309.4,358.2 309.8,356.5 310.2,357.8 310.7,357.5 311.3,356.9 311.8,356.0 312.4,358.2 313.0,357.4 313.5,357.2 314.1,357.7 314.6,357.6 315.2,358.0 315.7,356.1 316.3,357.1 316.8,357.0 317.3,356.6 317.9,355.5 318.4,355.1 318.9,356.2 319.5,355.9 320.0,356.2 320.6,357.3 321.1,356.7 321.7,355.8 322.1,357.2 322.6,356.4 323.0,357.9 323.5,357.4 323.9,356.6 324.3,356.7 324.6,356.8 324.9,356.1 325.2,356.6 325.4,355.6" fill="none" stroke="#ff3030" stroke-width="1.2" stroke-linejoin="round" stroke-linecap="round"/>
<polyline points="51.5,622.2 51.9,621.9 52.4,621.6 53.0,621.2 53.7,620.7 54.4,620.3 55.0,619.8 55.6,619.4 56.3,618.9 56.9,618.4 57.6,617.9 58.2,617.4 58.9,616.7 59.5,615.9 60.2,615.1 60.8,614.1 61.5,613.2 62.1,612.2 62.8,611.2 63.4,610.3 64.1,609.4 64.7,608.5 65.4,607.6 66.1,606.7 66.8,605.8 67.5,604.9 68.2,604.0 69.0,603.1 69.8,602.1 70.6,601.2 71.4,600.3 72.3,599.4 73.2,598.5 74.1,597.5 75.0,596.6 76.0,595.7 76.9,594.8 77.8,593.9 78.8,593.0 79.8,592.0 80.7,591.1 81.6,590.3 82.4,589.4 83.1,588.6 83.8,587.8 84.4,587.0 85.0,586.2 85.6,585.5 86.3,584.7 87.0,583.9 87.8,583.1 88.7,582.2 89.5,581.4 90.3,580.7 91.0,580.0 91.7,579.4 92.4,578.8 93.0,578.3 93.6,577.8 94.2,577.4 94.6,576.9 94.9,576.5 95.1,576.1 95.3,575.7 95.4,575.3 95.5,574.9 95.7,574.5 95.9,574.0 96.1,573.5 96.4,573.0 96.6,572.4 96.9,571.8 97.3,571.2 97.7,570.6 98.2,570.0 98.8,569.3 99.3,568.6 99.9,567.9 100.5,567.3 101.1,566.7 101.7,566.2 102.4,565.7 103.1,565.2 103.7,564.7 104.4,564.2 105.1,563.7 105.7,563.2 106.4,562.7 107.0,562.2 107.7,561.7 108.3,561.1 109.0,560.5 109.6,559.9 110.2,559.2 110.9,558.5 111.5,557.9 112.2,557.2 112.9,556.6 113.5,555.9 114.2,555.3 114.9,554.6 115.5,554.0 116.1,553.3 116.6,552.6 117.1,551.9 117.5,551.2 118.0,550.5 118.4,549.8 118.8,549.0 119.2,548.2 119.6,547.3 120.0,546.5 120.4,545.5 120.8,544.6 121.2,543.5 121.6,542.4 122.0,541.1 122.4,539.8 122.7,538.5 123.1,537.2 123.4,535.9 123.7,534.6 124.0,533.3 124.2,532.0 124.5,530.7 124.7,529.4 125.0,528.1 125.3,526.8 125.5,525.6 125.8,524.3 126.0,523.0 126.3,521.7 126.6,520.3 126.9,518.8 127.3,517.3 127.7,515.7 128.1,514.1 128.5,512.5 128.9,510.9 129.3,509.3 129.6,507.8 130.0,506.2 130.4,504.7 130.7,503.3 131.0,502.0 131.3,500.9 131.5,499.9 131.8,499.0 132.0,498.2 132.2,497.4 132.4,496.5 132.6,495.6 132.8,494.8 132.9,494.0 133.1,493.2 133.3,492.3 133.6,491.3 133.9,490.2 134.3,489.0 134.7,487.8 135.1,486.5 135.5,485.4 135.9,484.3 136.3,483.3 136.7,482.4 137.1,481.6 137.5,480.8 137.9,480.1 138.3,479.6 138.7,479.2 139.1,478.9 139.5,478.6 139.8,478.5 140.2,478.5 140.6,478.5 141.0,478.6 141.4,478.8 141.8,479.1 142.2,479.5 142.6,479.9 143.0,480.4 143.4,481.0 143.8,481.7 144.2,482.4 144.6,483.2 145.0,483.8 145.3,484.3 145.6,484.7 145.8,485.0 145.9,485.3 146.1,485.4 146.2,485.4 146.4,485.1 146.6,484.5 146.7,483.7 146.9,482.7 147.0,481.6 147.1,480.5 147.3,479.6 147.5,478.7 147.6,477.7 147.8,476.8 148.0,476.0 148.2,475.3 148.4,474.9 148.6,474.8 148.9,474.9 149.1,475.1 149.4,475.6 149.7,476.1 150.0,476.7 150.3,477.4 150.7,478.3 151.0,479.3 151.4,480.3 151.9,481.4 152.3,482.5 152.8,483.6 153.3,484.7 153.8,485.9 154.3,487.1 154.9,488.3 155.5,489.4 156.1,490.5 156.7,491.7 157.4,492.8 158.0,493.8 158.7,494.8 159.4,495.6 160.1,496.3 160.9,496.8 161.6,497.2 162.4,497.6 163.2,497.8 164.1,498.0 165.0,498.1 166.1,498.0 167.1,497.9 168.2,497.7 169.2,497.5 170.3,497.2 171.3,496.9 172.4,496.5 173.5,496.1 174.5,495.7 175.6,495.2 176.6,494.8 177.6,494.4 178.7,493.9 179.7,493.4 180.7,493.0 181.8,492.7 182.8,492.5 183.8,492.4 184.9,492.5 186.0,492.6 187.0,492.8 188.1,493.0 189.1,493.3 190.1,493.6 191.2,494.1 192.2,494.6 193.2,495.1 194.3,495.5 195.3,495.9 196.3,496.2 197.4,496.5 198.5,496.7 199.5,496.9 200.6,497.1 201.6,497.3 202.6,497.6 203.5,497.8 204.4,498.1 205.4,498.3 206.3,498.6 207.4,498.8 208.5,499.0 209.7,499.2 211.0,499.4 212.3,499.5 213.5,499.6 214.8,499.7 216.0,499.7 217.3,499.7 218.5,499.7 219.7,499.7 221.0,499.6 222.2,499.5 223.4,499.4 224.6,499.2 225.8,499.1 227.1,498.9 228.3,498.6 229.5,498.4 230.7,498.1 232.0,497.9 233.2,497.5 234.4,497.2 235.7,496.9 236.9,496.6 238.2,496.3 239.4,496.0 240.7,495.7 242.0,495.4 243.2,495.0 244.3,494.7 245.3,494.4 246.3,494.0 247.2,493.7 248.1,493.3 249.0,492.9 249.9,492.5 250.8,492.0 251.7,491.5 252.7,490.9 253.6,490.3 254.5,489.8 255.4,489.2 256.3,488.6 257.3,488.1 258.2,487.5 259.2,486.9 260.1,486.4 260.9,486.0 261.7,485.6 262.3,485.4 263.0,485.1 263.6,484.9 264.3,484.7 265.0,484.4 265.7,484.1 266.4,483.9 267.1,483.6 267.9,483.3 268.7,483.0 269.7,482.6 270.8,482.2 272.1,481.7 273.4,481.1 274.8,480.6 276.2,480.0 277.5,479.5 278.8,479.0 280.1,478.4 281.4,477.9 282.6,477.3 283.9,476.8 285.2,476.3 286.5,475.8 287.9,475.2 289.3,474.6 290.6,474.1 291.8,473.7 292.9,473.4 293.7,473.3 294.4,473.3 295.0,473.4 295.5,473.5 296.1,473.6 296.8,473.7 297.7,473.7 298.6,473.7 299.6,473.7 300.6,473.6 301.6,473.6 302.6,473.4 303.6,473.2 304.5,472.8 305.5,472.4 306.5,472.0 307.4,471.7 308.4,471.4 309.4,471.2 310.3,471.0 311.3,470.8 312.3,470.6 313.2,470.5 314.2,470.5 315.2,470.5 316.1,470.6 317.1,470.8 318.0,471.0 319.0,471.2 320.0,471.4 321.1,471.7 322.4,472.0 323.6,472.4 324.8,472.7 325.8,473.0 326.5,473.2" fill="none" stroke="#4aa24a" stroke-width="1.2" stroke-linejoin="round" stroke-linecap="round"/>
<polyline points="51.5,464.6 52.0,464.9 52.6,465.2 53.3,465.7 54.1,466.1 54.9,466.6 55.7,467.1 56.5,467.6 57.2,468.1 58.0,468.6 58.8,469.2 59.6,469.7 60.4,470.2 61.2,470.7 62.0,471.1 62.8,471.6 63.5,472.0 64.3,472.4 65.1,472.9 65.9,473.4 66.7,473.8 67.5,474.3 68.3,474.7 69.0,475.2 69.8,475.7 70.4,476.2 71.1,476.7 71.8,477.1 72.4,477.6 73.1,478.2 73.7,478.8 74.4,479.5 75.0,480.2 75.7,481.0 76.3,481.8 77.0,482.6 77.6,483.5 78.2,484.5 78.9,485.5 79.5,486.5 80.2,487.6 80.8,488.7 81.5,489.8 82.2,490.8 82.8,491.9 83.5,493.0 84.2,494.0 84.8,495.1 85.4,496.0 85.9,496.8 86.4,497.6 86.8,498.3 87.2,499.0 87.6,499.7 88.0,500.5 88.5,501.4 88.9,502.4 89.4,503.5 89.9,504.5 90.4,505.5 90.8,506.5 91.2,507.4 91.6,508.3 92.0,509.1 92.4,510.0 92.8,510.8 93.2,511.5 93.6,512.2 93.9,512.9 94.3,513.5 94.6,514.1 95.0,514.7 95.5,515.2 96.0,515.7 96.6,516.2 97.2,516.6 97.8,517.0 98.6,517.4 99.4,517.8 100.4,518.2 101.5,518.6 102.7,519.0 103.9,519.4 105.1,519.8 106.2,520.3 107.3,520.8 108.4,521.2 109.5,521.7 110.6,522.2 111.6,522.8 112.5,523.4 113.4,524.1 114.2,524.8 115.0,525.6 115.8,526.4 116.5,527.3 117.2,528.1 117.9,529.0 118.6,529.9 119.2,530.8 119.8,531.7 120.5,532.7 121.1,533.6 121.7,534.5 122.4,535.4 123.0,536.3 123.6,537.2 124.3,538.1 125.0,539.1 125.7,540.2 126.5,541.4 127.4,542.6 128.2,543.8 129.0,545.0 129.7,546.1 130.4,547.2 131.1,548.2 131.8,549.2 132.4,550.2 133.0,551.1 133.6,552.0 134.0,552.7 134.3,553.3 134.6,553.9 134.9,554.5 135.4,555.1 136.0,556.0 136.9,557.1 138.0,558.3 139.2,559.7 140.5,561.1 141.8,562.5 143.0,563.8 144.2,565.0 145.3,566.2 146.4,567.4 147.6,568.6 148.8,569.9 150.2,571.3 151.7,572.8 153.2,574.4 154.9,576.1 156.6,577.8 158.3,579.6 160.1,581.2 162.0,583.0 163.9,584.7 166.0,586.5 168.0,588.2 169.8,589.8 171.5,591.2 172.9,592.4 174.2,593.5 175.3,594.4 176.4,595.3 177.4,596.2 178.6,597.2 179.8,598.3 181.1,599.4 182.4,600.6 183.7,601.7 184.9,602.8 186.0,603.8 187.0,604.7 187.8,605.6 188.6,606.4 189.3,607.2 190.1,608.0 191.0,608.8 191.9,609.7 192.8,610.5 193.8,611.4 194.8,612.3 195.8,613.2 197.0,614.0 198.3,614.8 199.7,615.7 201.1,616.6 202.6,617.4 204.1,618.1 205.6,618.7 207.0,619.2 208.5,619.5 209.9,619.8 211.3,620.0 212.7,620.2 214.1,620.4 215.4,620.5 216.7,620.6 218.0,620.7 219.3,620.7 220.6,620.8 222.0,620.8 223.4,620.8 224.9,620.9 226.4,620.9 228.0,620.9 229.5,620.9 231.0,620.9 232.4,620.9 233.6,620.9 234.8,620.8 236.2,620.8 237.9,620.8 240.0,620.7 242.6,620.6 245.6,620.6 248.9,620.5 252.5,620.4 256.2,620.3 260.0,620.2 264.1,620.1 268.7,619.9 273.4,619.7 278.0,619.5 282.3,619.3 286.0,619.2 288.9,619.1 291.1,619.0 293.0,619.0 294.9,618.9 297.1,618.9 300.0,618.8 304.0,618.7 308.9,618.6 314.1,618.4 319.2,618.3 323.5,618.2 326.5,618.1" fill="none" stroke="#4a4aff" stroke-width="1.2" stroke-linejoin="round" stroke-linecap="round"/>
<polyline points="51.8,589.2 51.8,588.3 51.8,586.9 51.8,585.6 51.8,584.6 51.8,583.8 51.8,582.9 51.8,581.9 51.8,580.4 51.9,579.3 51.9,578.7 51.9,577.7 51.9,576.9 51.9,576.0 51.9,575.0 51.9,573.5 52.0,572.8 52.0,571.1 52.0,569.8 52.1,568.7 52.1,568.0 52.2,567.0 52.2,565.9 52.2,565.1 52.3,564.3 52.3,563.6 52.4,562.9 52.4,562.0 52.5,560.9 52.6,560.6 52.7,559.4 52.8,558.8 53.0,557.7 53.2,557.1 53.5,556.1 53.7,555.4 53.9,555.0 54.1,553.7 54.2,553.2 54.4,552.0 54.5,551.6 54.5,551.2 54.6,550.5 54.6,550.0 54.7,549.4 54.8,548.7 54.9,548.5 55.1,547.8 55.2,547.8 55.4,546.9 55.6,546.8 55.9,546.3 56.1,546.1 56.3,545.5 56.5,545.5 56.7,545.0 56.9,545.0 57.0,544.7 57.2,544.4 57.4,544.1 57.6,544.3 57.8,544.2 58.0,544.4 58.3,544.1 58.5,544.5 58.8,544.7 59.1,544.9 59.5,545.2 59.8,545.5 60.1,545.7 60.4,545.9 60.7,546.4 61.0,547.0 61.3,547.6 61.6,547.9 61.9,548.3 62.2,548.7 62.4,549.0 62.7,549.2 62.9,549.6 63.2,550.0 63.4,549.7 63.6,549.7 63.8,550.4 64.0,550.2 64.1,550.6 64.3,551.0 64.5,551.1 64.6,552.6 64.8,553.4 64.9,554.0 65.0,554.9 65.2,555.5 65.3,555.8 65.4,556.2 65.5,556.2 65.6,556.0 65.7,555.3 65.8,554.4 65.9,553.9 66.0,552.7 66.1,552.3 66.3,551.8 66.5,551.1 66.7,550.5 66.9,550.4 67.2,550.4 67.4,550.2 67.7,550.2 67.9,549.4 68.2,549.2 68.5,548.9 68.7,548.4 69.0,547.5 69.3,547.7 69.6,547.6 69.9,546.8 70.2,545.8 70.5,545.2 70.8,544.6 71.1,544.2 71.4,542.9 71.8,541.8 72.1,541.0 72.4,539.6 72.6,539.0 72.9,537.4 73.1,536.3 73.3,535.4 73.5,534.4 73.7,533.0 73.9,531.8 74.0,530.1 74.2,529.1 74.4,528.0 74.6,526.8 74.8,525.9 75.0,524.5 75.2,523.6 75.4,522.3 75.6,521.0 75.8,519.9 76.0,518.8 76.2,517.7 76.4,516.3 76.6,515.1 76.8,513.7 77.0,513.1 77.2,511.9 77.4,510.4 77.6,509.3 77.8,508.1 78.0,507.4 78.2,506.5 78.4,505.9 78.6,504.7 78.8,503.6 78.9,502.5 79.1,502.6 79.3,501.7 79.4,500.8 79.5,500.6 79.7,499.8 79.8,500.2 79.9,499.5 80.1,499.0 80.2,498.5 80.4,497.7 80.5,497.8 80.7,497.2 80.8,497.3 81.0,496.5 81.2,496.5 81.3,496.7 81.5,496.6 81.7,495.9 81.9,495.7 82.0,496.1 82.2,496.0 82.4,495.5 82.6,495.6 82.8,495.5 83.0,495.5 83.2,495.7 83.4,496.3 83.6,496.4 83.8,497.0 84.0,496.8 84.2,496.9 84.4,496.8 84.6,496.8 84.8,496.2 85.0,495.5 85.2,495.4 85.4,494.8 85.6,493.9 85.8,493.1 86.0,492.1 86.2,491.2 86.4,490.6 86.6,489.7 86.8,488.8 87.0,487.9 87.1,487.1 87.3,486.6 87.5,485.9 87.7,485.0 87.9,484.6 88.1,483.5 88.3,482.7 88.5,482.0 88.7,480.8 88.9,480.0 89.1,480.0 89.3,479.5 89.5,479.8 89.7,479.9 89.9,480.4 90.1,480.9 90.3,480.9 90.5,482.0 90.6,482.2 90.8,482.5 91.0,482.9 91.1,483.5 91.2,483.9 91.3,484.2 91.5,483.9 91.6,484.3 91.7,483.9 91.9,484.3 92.1,484.1 92.3,483.3 92.5,482.8 92.7,482.0 92.9,481.4 93.1,480.3 93.3,479.8 93.5,479.4 93.6,479.8 93.8,479.6 93.9,479.3 94.0,479.5 94.1,479.7 94.2,480.1 94.3,480.5 94.4,481.1 94.5,481.7 94.6,482.7 94.7,484.1 94.8,484.9 94.8,486.1 94.9,487.5 95.0,488.5 95.0,489.4 95.1,490.2 95.1,491.3 95.1,492.2 95.2,492.8 95.2,493.6 95.2,494.5 95.2,495.4 95.3,496.8 95.3,497.2 95.3,498.6 95.4,499.6 95.4,500.5 95.4,501.4 95.4,502.5 95.5,503.1 95.5,503.9 95.5,504.7 95.5,505.6 95.6,506.7 95.6,507.2 95.6,507.9 95.6,508.7 95.6,509.6 95.7,510.5 95.7,512.1 95.7,513.0 95.7,513.7 95.8,515.0 95.8,515.5 95.8,516.9 95.9,518.2 95.9,518.8 95.9,519.9 96.0,521.0 96.0,522.4 96.0,523.5 96.0,523.9 96.1,525.3 96.1,525.9 96.1,526.8 96.2,527.7 96.2,528.6 96.2,529.1 96.3,530.2 96.3,531.0 96.3,532.2 96.4,533.4 96.4,534.4 96.5,534.7 96.5,535.3 96.6,536.4 96.6,537.1 96.7,538.5 96.8,539.8 96.9,541.0 97.0,542.7 97.1,543.9 97.2,544.5 97.3,545.5 97.4,546.3 97.5,547.0 97.7,547.6 97.8,548.0 97.9,548.8 98.1,549.3 98.3,550.0 98.4,551.3 98.6,551.9 98.8,552.8 99.0,553.2 99.2,554.3 99.5,555.2 99.7,555.3 100.0,556.3 100.2,556.5 100.5,557.0 100.8,557.3 101.1,557.6 101.4,558.0 101.7,557.8 102.0,558.3 102.3,557.8 102.6,557.6 102.9,557.7 103.2,557.1 103.5,556.9 103.8,556.9 104.1,556.8 104.4,556.0 104.7,556.5 105.0,556.8 105.3,556.7 105.6,556.5 105.9,556.5 106.2,556.7 106.5,556.7 106.7,557.1 106.9,557.5 107.1,558.0 107.2,558.8 107.3,559.1 107.4,559.4 107.5,560.3 107.7,560.1 107.8,560.2 107.9,559.9 108.1,559.3 108.2,558.5 108.4,557.7 108.5,557.3 108.7,555.8 108.9,554.9 109.1,554.3 109.3,553.5 109.6,552.7 109.9,551.9 110.2,550.5 110.5,549.9 110.8,549.4 111.1,548.7 111.4,548.1 111.7,547.2 111.9,546.4 112.2,545.9 112.4,545.2 112.6,544.7 112.9,544.1 113.1,543.1 113.3,542.0 113.5,540.9 113.7,540.0 113.9,538.6 114.1,537.1 114.2,535.5 114.4,534.1 114.6,532.5 114.8,531.4 115.0,529.9 115.2,529.1 115.4,528.1 115.6,527.5 115.8,526.3 116.0,525.5 116.2,524.6 116.4,523.7 116.6,522.0 116.8,520.7 117.0,519.6 117.2,517.8 117.4,516.7 117.6,515.1 117.8,513.8 118.0,512.1 118.2,511.4 118.4,509.9 118.6,508.6 118.8,508.0 119.0,506.5 119.2,505.8 119.3,504.2 119.5,503.0 119.6,502.1 119.7,501.5 119.8,500.4 119.9,499.6 120.0,498.8 120.1,497.7 120.2,497.0 120.3,495.9 120.5,494.7 120.6,493.9 120.8,492.6 121.1,491.2 121.3,489.8 121.5,488.3 121.7,487.7 121.9,486.6 122.1,485.4 122.3,484.9 122.5,483.8 122.7,483.4 122.8,482.8 123.0,482.2 123.2,481.7 123.4,481.2 123.6,480.6 123.8,480.5 124.0,480.2 124.2,480.1 124.4,480.1 124.6,480.1 124.8,480.3 125.0,479.5 125.2,480.1 125.4,480.1 125.6,480.7 125.8,480.7 126.0,480.4 126.2,481.1 126.4,481.3 126.6,482.1 126.8,482.2 127.0,483.1 127.1,483.8 127.3,484.6 127.5,485.3 127.7,485.9 127.9,487.3 128.1,488.4 128.4,489.2 128.6,490.2 128.9,491.6 129.2,493.0 129.6,494.1 129.9,495.3 130.2,496.8 130.5,497.4 130.8,498.5 131.1,499.2 131.4,500.3 131.7,501.2 131.9,502.0 132.2,502.8 132.5,504.2 132.8,504.7 133.1,505.5 133.4,506.9 133.7,507.2 134.0,507.8 134.3,509.0 134.6,509.7 134.9,511.1 135.2,511.5 135.5,512.6 135.8,513.5 136.1,514.9 136.4,515.8 136.7,517.2 137.0,518.2 137.2,519.2 137.5,520.5 137.7,521.4 138.0,522.2 138.2,522.9 138.4,523.8 138.6,524.9 138.8,526.0 139.0,526.0 139.1,526.6" fill="none" stroke="#ff3030" stroke-width="1.2" stroke-linejoin="round" stroke-linecap="round"/>
<polyline points="139.1,526.0 139.3,526.9 139.5,527.0 139.8,527.2 140.1,528.2 140.4,528.2 140.8,528.4 141.1,529.5 141.4,528.7 141.7,528.4 142.0,528.4 142.3,528.6 142.6,529.0 142.9,528.9 143.2,528.9 143.5,529.0 143.8,528.8 144.0,528.2 144.3,528.3 144.6,527.9 144.9,527.2 145.2,527.5 145.5,527.0 145.8,526.7 146.1,527.4 146.4,526.7 146.7,526.0 147.0,525.9 147.2,526.6 147.5,525.3 147.8,525.5 148.1,525.3 148.4,525.2 148.7,525.3 149.0,525.0 149.3,525.2 149.6,525.5 149.8,525.7 150.1,526.5 150.5,527.0 150.8,526.3 151.1,527.0 151.5,526.6 151.9,526.9 152.3,527.3 152.6,527.7 153.1,527.7 153.5,527.1 153.9,529.0 154.3,528.6 154.8,528.9 155.3,529.8 155.8,529.7 156.3,529.8 156.8,531.0 157.3,531.4 157.8,531.3 158.3,532.4 158.8,532.6 159.3,532.4 159.8,533.9 160.2,533.7 160.7,533.5 161.2,534.6 161.7,534.8 162.2,535.5 162.7,534.9 163.2,536.2 163.7,536.4 164.2,536.6 164.7,536.9 165.1,537.4 165.6,537.3 166.0,537.2 166.4,536.9 166.8,537.7 167.2,537.7 167.5,537.4 167.9,537.2 168.3,537.4 168.8,536.0 169.2,537.1 169.7,535.8 170.2,536.8 170.7,536.9 171.2,537.1 171.7,535.9 172.2,536.0 172.7,535.5 173.2,534.2 173.6,535.0 174.1,534.2 174.6,533.7 175.0,532.8 175.5,532.6 176.0,532.1 176.6,532.1 177.2,531.2 177.9,531.6 178.6,529.8 179.3,529.3 180.1,528.9 180.8,528.2 181.4,528.9 182.0,528.4 182.5,527.6 183.0,528.4 183.4,529.1 183.7,528.5 184.1,529.6 184.5,529.9 184.8,531.4 185.2,531.0 185.6,531.0 186.0,531.3 186.3,532.7 186.7,532.2 187.1,533.7 187.5,532.5 187.9,533.5 188.3,533.8 188.8,534.0 189.2,534.6 189.7,535.3 190.2,535.0 190.8,535.1 191.3,536.6 191.7,537.1 192.2,536.7 192.6,537.7 193.0,537.2 193.4,539.3 193.8,539.1 194.2,540.1 194.5,542.0 194.9,541.3 195.3,542.5 195.7,542.8 196.1,543.1 196.5,544.1 196.8,545.4 197.2,545.4 197.6,546.4 198.0,547.6 198.4,548.0 198.8,548.2 199.2,550.0 199.7,550.1 200.1,551.4 200.5,551.0 200.9,552.8 201.3,552.2 201.6,552.7 201.9,553.8 202.1,554.4 202.3,555.2 202.5,555.4 202.7,556.4 202.9,557.2 203.1,556.9 203.4,557.3 203.7,558.3 204.1,559.5 204.6,560.3 205.0,560.6 205.5,561.1 205.9,562.3 206.4,563.4 206.8,563.5 207.2,565.0 207.7,565.2 208.1,566.0 208.5,566.2 208.9,567.7 209.3,567.8 209.8,567.8 210.2,569.2 210.6,569.3 211.0,570.4 211.5,570.5 211.9,570.6 212.3,571.3 212.7,571.4 213.2,571.6 213.6,572.3 214.0,573.0 214.4,573.0 214.8,573.1 215.2,573.2 215.6,573.9 216.0,574.0 216.5,574.5 217.0,574.5 217.6,575.4 218.1,574.2 218.7,575.0 219.4,575.5 220.1,575.8 220.7,575.1 221.5,575.4 222.2,576.0 223.0,576.6 223.8,576.7 224.6,575.7 225.5,576.4 226.4,576.9 227.3,576.4 228.1,576.0 229.0,576.2 229.9,576.0 230.8,577.1 231.7,576.6 232.6,576.5 233.4,576.4 234.3,576.8 235.1,576.6 235.8,576.6 236.5,577.1 237.1,577.2 237.8,577.7 238.3,577.7 238.8,578.3 239.3,578.0 239.7,578.2 240.0,578.2" fill="none" stroke="#ff3030" stroke-width="1.2" stroke-linejoin="round" stroke-linecap="round"/>
<polyline points="240.0,578.2 240.0,579.2 240.1,578.5 240.2,578.5 240.2,580.1 240.3,580.7 240.4,581.0 240.5,581.2 240.6,580.8 240.7,580.1 240.7,579.2 240.8,578.5 240.9,577.3 240.9,576.8 241.0,575.6 241.2,573.9 241.4,574.4 241.6,573.9 241.9,574.6 242.2,575.1 242.6,575.1 243.0,574.4 243.4,576.1 243.8,575.5 244.3,577.3 244.8,576.4 245.4,576.9 246.1,578.0 246.7,576.4 247.4,577.4 248.1,577.0 248.7,577.4 249.4,577.4 250.0,578.2 250.7,577.8 251.3,578.3 251.9,578.5 252.6,577.4 253.2,579.0 253.8,578.2 254.5,577.4 255.2,577.8 255.9,578.4 256.6,578.2 257.4,577.1 258.1,577.2 258.8,577.0 259.4,577.2 260.0,576.5 260.5,577.0 261.1,576.0 261.5,576.1 262.0,576.9 262.4,577.0 262.8,576.6 263.2,576.9 263.5,576.7 263.8,576.8 264.0,576.7 264.2,576.1 264.4,575.9 264.6,575.0 264.7,574.8 264.9,573.8 265.0,575.3 265.1,575.4 265.3,576.2 265.4,575.7 265.5,577.2 265.6,577.9 265.8,578.0 265.9,579.8 266.0,580.2 266.1,578.8 266.2,579.2 266.4,579.2 266.5,576.9 266.6,577.3 266.8,577.0 266.9,576.7 267.0,574.9 267.1,575.2 267.2,576.4 267.4,577.6 267.5,577.2 267.6,578.2 267.7,578.8 267.9,580.4 268.0,579.8 268.2,580.2 268.3,579.8 268.5,579.5 268.7,578.4 268.9,577.6 269.1,577.4 269.3,576.5 269.5,575.4 269.7,575.9 269.9,576.9 270.1,576.9 270.3,577.2 270.5,578.1 270.7,579.7 270.8,578.8 271.0,579.3 271.1,579.3 271.1,578.8 271.1,579.3 271.1,578.9 271.1,578.3 271.3,577.2 271.5,578.3 272.0,577.9 272.7,577.3 273.5,576.1 274.4,577.4 275.4,576.8 276.5,577.3 277.7,577.2 278.9,577.1 280.0,578.1 281.2,577.6 281.9,578.2 282.5,577.1 283.2,577.5 283.9,578.3 284.6,577.8 285.3,577.2 286.0,577.1 286.6,577.3 287.3,577.5 287.9,577.9 289.1,577.6 290.0,577.8 290.8,577.7 291.4,577.2 291.8,577.5 292.2,577.0 292.5,576.3 292.8,576.1 293.1,576.0 293.4,575.7 293.7,575.5 293.9,576.6 294.1,576.7 294.3,577.7 294.5,577.6 294.6,578.3 294.8,578.6 295.0,578.3 295.2,578.5 295.4,577.5 295.6,577.1 295.8,577.1 295.9,576.2 296.1,575.5 296.3,574.7 296.5,575.4 296.7,576.3 296.8,574.7 297.0,577.0 297.2,577.4 297.3,578.6 297.5,579.3 297.8,578.8 298.0,580.4 298.2,579.3 298.5,579.2 298.7,579.3 298.9,578.5 299.2,578.2 299.6,577.4 300.1,576.7 300.8,577.1 301.6,576.4 302.6,577.7 303.7,577.2 304.3,577.8 305.0,576.5 305.6,576.1 306.2,576.1 306.9,577.1 307.5,576.7 308.1,577.6 308.8,576.7 309.4,576.8 310.0,577.7 310.6,577.4 311.2,577.9 311.9,578.0 312.5,577.8 313.2,577.0 313.8,577.2 314.5,578.8 315.2,577.5 315.8,577.8 316.5,577.8 317.1,577.7 317.7,577.6 318.9,577.5 320.0,577.6 321.0,576.9 322.0,579.0 323.0,578.2 323.9,577.7 324.7,578.9 325.4,579.1 326.0,578.1 326.5,578.9" fill="none" stroke="#ff3030" stroke-width="1.2" stroke-linejoin="round" stroke-linecap="round"/>
<text x="67.70" y="23.70" textLength="5.80" lengthAdjust="spacingAndGlyphs" class="se" font-size="6.8" font-weight="normal" fill="#1a1a1a" stroke="#1a1a1a" stroke-width="0.28">81</text>
<text x="83.80" y="111.35" textLength="8.70" lengthAdjust="spacingAndGlyphs" class="se" font-size="6.8" font-weight="normal" fill="#1a1a1a" stroke="#1a1a1a" stroke-width="0.28">149</text>
<text x="203.00" y="140.55" textLength="8.70" lengthAdjust="spacingAndGlyphs" class="se" font-size="6.8" font-weight="normal" fill="#1a1a1a" stroke="#1a1a1a" stroke-width="0.28">636</text>
<text x="308.80" y="93.20" textLength="13.00" lengthAdjust="spacingAndGlyphs" class="se" font-size="6.4" font-weight="bold" fill="#1d7d1d" stroke="#1d7d1d" stroke-width="0.4">DTA</text>
<text x="303.75" y="158.30" textLength="13.90" lengthAdjust="spacingAndGlyphs" class="se" font-size="6.4" font-weight="bold" fill="#ff1010" stroke="#ff1010" stroke-width="0.4">DTG</text>
<text x="303.90" y="181.40" textLength="8.90" lengthAdjust="spacingAndGlyphs" class="se" font-size="6.4" font-weight="bold" fill="#2a2aff" stroke="#2a2aff" stroke-width="0.4">TG</text>
<text x="58.70" y="319.80" textLength="5.80" lengthAdjust="spacingAndGlyphs" class="se" font-size="6.8" font-weight="normal" fill="#1a1a1a" stroke="#1a1a1a" stroke-width="0.28">72</text>
<text x="91.55" y="315.10" textLength="8.70" lengthAdjust="spacingAndGlyphs" class="se" font-size="6.8" font-weight="normal" fill="#1a1a1a" stroke="#1a1a1a" stroke-width="0.28">225</text>
<text x="111.90" y="298.70" textLength="8.70" lengthAdjust="spacingAndGlyphs" class="se" font-size="6.8" font-weight="normal" fill="#1a1a1a" stroke="#1a1a1a" stroke-width="0.28">271</text>
<text x="145.15" y="279.00" textLength="8.70" lengthAdjust="spacingAndGlyphs" class="se" font-size="6.8" font-weight="normal" fill="#1a1a1a" stroke="#1a1a1a" stroke-width="0.28">411</text>
<text x="179.90" y="296.05" textLength="8.70" lengthAdjust="spacingAndGlyphs" class="se" font-size="6.8" font-weight="normal" fill="#1a1a1a" stroke="#1a1a1a" stroke-width="0.28">550</text>
<text x="308.50" y="268.80" textLength="12.80" lengthAdjust="spacingAndGlyphs" class="se" font-size="6.4" font-weight="bold" fill="#1d7d1d" stroke="#1d7d1d" stroke-width="0.4">DTA</text>
<text x="303.10" y="343.90" textLength="14.00" lengthAdjust="spacingAndGlyphs" class="se" font-size="6.4" font-weight="bold" fill="#ff1010" stroke="#ff1010" stroke-width="0.4">DTG</text>
<text x="303.10" y="398.90" textLength="9.20" lengthAdjust="spacingAndGlyphs" class="se" font-size="6.4" font-weight="bold" fill="#2a2aff" stroke="#2a2aff" stroke-width="0.4">TG</text>
<text x="55.60" y="541.05" textLength="5.80" lengthAdjust="spacingAndGlyphs" class="se" font-size="6.8" font-weight="normal" fill="#1a1a1a" stroke="#1a1a1a" stroke-width="0.28">49</text>
<text x="87.55" y="474.90" textLength="8.70" lengthAdjust="spacingAndGlyphs" class="se" font-size="6.8" font-weight="normal" fill="#1a1a1a" stroke="#1a1a1a" stroke-width="0.28">196</text>
<text x="120.65" y="477.70" textLength="8.70" lengthAdjust="spacingAndGlyphs" class="se" font-size="6.8" font-weight="normal" fill="#1a1a1a" stroke="#1a1a1a" stroke-width="0.28">308</text>
<text x="145.95" y="521.80" textLength="8.70" lengthAdjust="spacingAndGlyphs" class="se" font-size="6.8" font-weight="normal" fill="#1a1a1a" stroke="#1a1a1a" stroke-width="0.28">406</text>
<text x="178.45" y="525.70" textLength="8.70" lengthAdjust="spacingAndGlyphs" class="se" font-size="6.8" font-weight="normal" fill="#1a1a1a" stroke="#1a1a1a" stroke-width="0.28">534</text>
<text x="300.00" y="464.80" textLength="13.00" lengthAdjust="spacingAndGlyphs" class="se" font-size="6.4" font-weight="bold" fill="#1d7d1d" stroke="#1d7d1d" stroke-width="0.4">DTA</text>
<text x="303.00" y="570.50" textLength="14.00" lengthAdjust="spacingAndGlyphs" class="se" font-size="6.4" font-weight="bold" fill="#ff1010" stroke="#ff1010" stroke-width="0.4">DTG</text>
<text x="304.80" y="627.10" textLength="9.00" lengthAdjust="spacingAndGlyphs" class="se" font-size="6.4" font-weight="bold" fill="#2a2aff" stroke="#2a2aff" stroke-width="0.4">TG</text>
</svg></body></html>
